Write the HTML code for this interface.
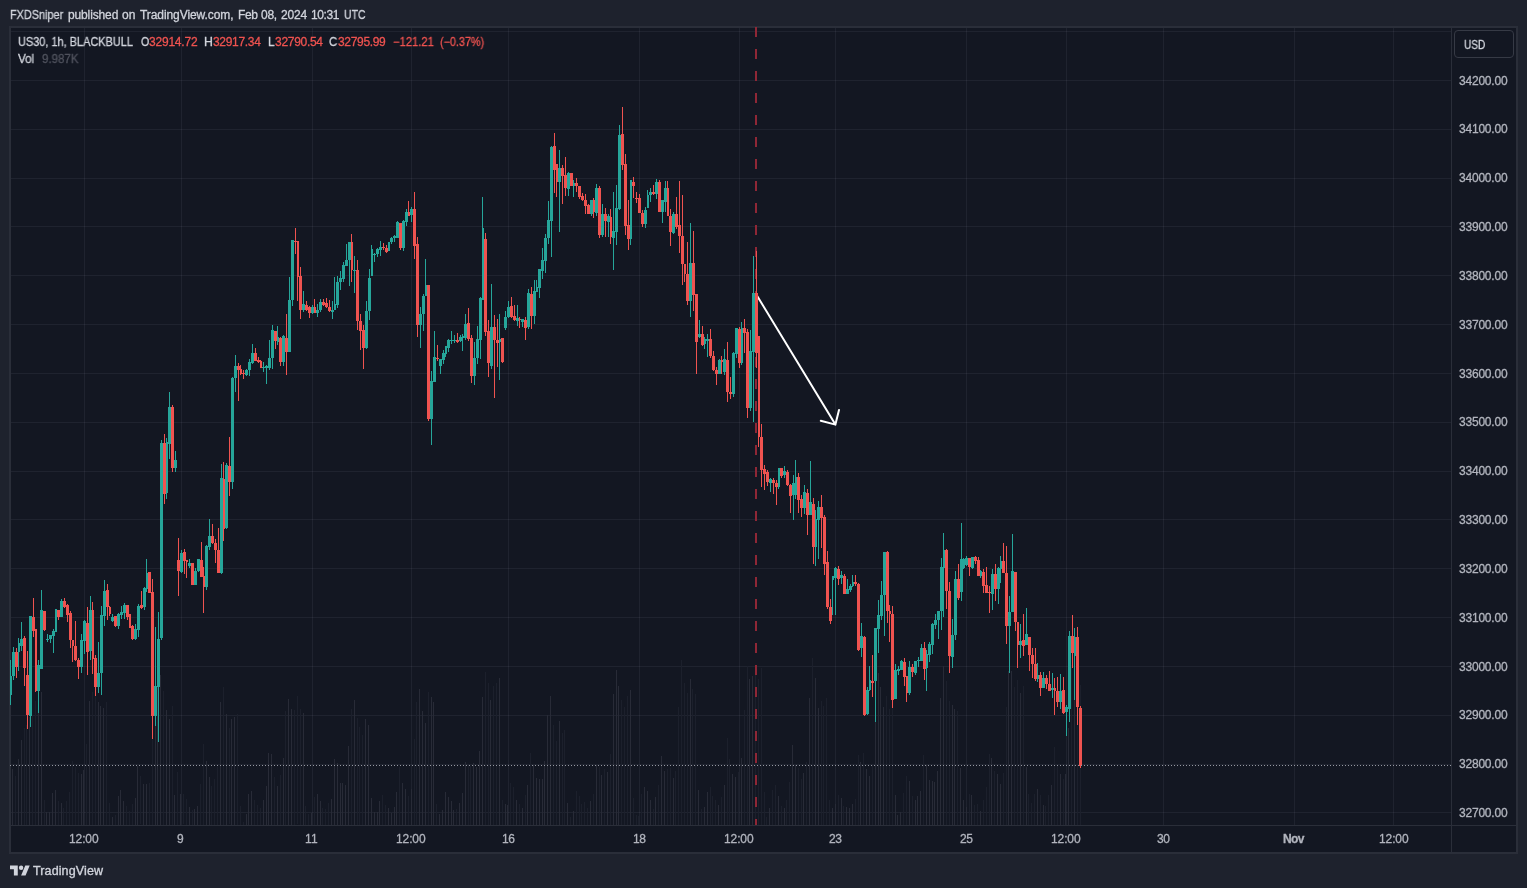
<!DOCTYPE html>
<html><head><meta charset="utf-8">
<style>
html,body{margin:0;padding:0;}
body{width:1527px;height:888px;background:#1e222d;position:relative;overflow:hidden;font-family:"Liberation Sans",sans-serif;font-size:12px;color:#d1d4dc;}
.t{position:absolute;white-space:pre;line-height:14px;will-change:transform;-webkit-text-stroke:0.3px;}
#frame{position:absolute;left:9px;top:26px;width:1505px;height:824px;background:#131722;border:2px solid #2a2e39;}
svg{position:absolute;left:0;top:0;}
.ax{position:absolute;white-space:pre;line-height:14px;color:#b2b5be;}
.r{color:#ef5350;}
</style></head><body>
<div id="frame"></div>
<svg width="1527" height="888" viewBox="0 0 1527 888" shape-rendering="crispEdges">
<rect x="84" y="28" width="1" height="797" fill="rgba(240,243,250,0.06)"/>
<rect x="181" y="28" width="1" height="797" fill="rgba(240,243,250,0.06)"/>
<rect x="312" y="28" width="1" height="797" fill="rgba(240,243,250,0.06)"/>
<rect x="411" y="28" width="1" height="797" fill="rgba(240,243,250,0.06)"/>
<rect x="508" y="28" width="1" height="797" fill="rgba(240,243,250,0.06)"/>
<rect x="639" y="28" width="1" height="797" fill="rgba(240,243,250,0.06)"/>
<rect x="739" y="28" width="1" height="797" fill="rgba(240,243,250,0.06)"/>
<rect x="835" y="28" width="1" height="797" fill="rgba(240,243,250,0.06)"/>
<rect x="966" y="28" width="1" height="797" fill="rgba(240,243,250,0.06)"/>
<rect x="1066" y="28" width="1" height="797" fill="rgba(240,243,250,0.06)"/>
<rect x="1163" y="28" width="1" height="797" fill="rgba(240,243,250,0.06)"/>
<rect x="1294" y="28" width="1" height="797" fill="rgba(240,243,250,0.06)"/>
<rect x="1393" y="28" width="1" height="797" fill="rgba(240,243,250,0.06)"/>
<rect x="11" y="812" width="1440" height="1" fill="rgba(240,243,250,0.06)"/>
<rect x="11" y="764" width="1440" height="1" fill="rgba(240,243,250,0.06)"/>
<rect x="11" y="715" width="1440" height="1" fill="rgba(240,243,250,0.06)"/>
<rect x="11" y="666" width="1440" height="1" fill="rgba(240,243,250,0.06)"/>
<rect x="11" y="617" width="1440" height="1" fill="rgba(240,243,250,0.06)"/>
<rect x="11" y="568" width="1440" height="1" fill="rgba(240,243,250,0.06)"/>
<rect x="11" y="519" width="1440" height="1" fill="rgba(240,243,250,0.06)"/>
<rect x="11" y="471" width="1440" height="1" fill="rgba(240,243,250,0.06)"/>
<rect x="11" y="422" width="1440" height="1" fill="rgba(240,243,250,0.06)"/>
<rect x="11" y="373" width="1440" height="1" fill="rgba(240,243,250,0.06)"/>
<rect x="11" y="324" width="1440" height="1" fill="rgba(240,243,250,0.06)"/>
<rect x="11" y="275" width="1440" height="1" fill="rgba(240,243,250,0.06)"/>
<rect x="11" y="226" width="1440" height="1" fill="rgba(240,243,250,0.06)"/>
<rect x="11" y="178" width="1440" height="1" fill="rgba(240,243,250,0.06)"/>
<rect x="11" y="129" width="1440" height="1" fill="rgba(240,243,250,0.06)"/>
<rect x="11" y="80" width="1440" height="1" fill="rgba(240,243,250,0.06)"/>
<rect x="11" y="31" width="1440" height="1" fill="rgba(240,243,250,0.06)"/>
<rect x="12" y="769" width="1" height="56" fill="#282b37"/>
<rect x="15" y="776" width="1" height="49" fill="#1c202c"/>
<rect x="18" y="759" width="1" height="66" fill="#282b37"/>
<rect x="21" y="740" width="1" height="85" fill="#282b37"/>
<rect x="24" y="728" width="1" height="97" fill="#1c202c"/>
<rect x="26" y="725" width="1" height="100" fill="#1c202c"/>
<rect x="29" y="717" width="1" height="108" fill="#282b37"/>
<rect x="32" y="715" width="1" height="110" fill="#1c202c"/>
<rect x="35" y="701" width="1" height="124" fill="#1c202c"/>
<rect x="38" y="713" width="1" height="112" fill="#282b37"/>
<rect x="41" y="692" width="1" height="133" fill="#282b37"/>
<rect x="44" y="800" width="1" height="25" fill="#1c202c"/>
<rect x="46" y="812" width="1" height="13" fill="#282b37"/>
<rect x="49" y="812" width="1" height="13" fill="#282b37"/>
<rect x="52" y="793" width="1" height="32" fill="#282b37"/>
<rect x="55" y="790" width="1" height="35" fill="#282b37"/>
<rect x="58" y="801" width="1" height="24" fill="#1c202c"/>
<rect x="61" y="803" width="1" height="22" fill="#282b37"/>
<rect x="63" y="808" width="1" height="17" fill="#1c202c"/>
<rect x="66" y="801" width="1" height="24" fill="#1c202c"/>
<rect x="69" y="792" width="1" height="33" fill="#1c202c"/>
<rect x="72" y="761" width="1" height="64" fill="#1c202c"/>
<rect x="75" y="767" width="1" height="58" fill="#1c202c"/>
<rect x="78" y="773" width="1" height="52" fill="#1c202c"/>
<rect x="81" y="774" width="1" height="51" fill="#282b37"/>
<rect x="83" y="770" width="1" height="55" fill="#282b37"/>
<rect x="86" y="744" width="1" height="81" fill="#1c202c"/>
<rect x="89" y="701" width="1" height="124" fill="#282b37"/>
<rect x="92" y="692" width="1" height="133" fill="#1c202c"/>
<rect x="95" y="695" width="1" height="130" fill="#1c202c"/>
<rect x="98" y="702" width="1" height="123" fill="#282b37"/>
<rect x="100" y="706" width="1" height="119" fill="#282b37"/>
<rect x="103" y="708" width="1" height="117" fill="#282b37"/>
<rect x="106" y="702" width="1" height="123" fill="#1c202c"/>
<rect x="109" y="803" width="1" height="22" fill="#1c202c"/>
<rect x="112" y="817" width="1" height="8" fill="#282b37"/>
<rect x="115" y="815" width="1" height="10" fill="#1c202c"/>
<rect x="118" y="796" width="1" height="29" fill="#282b37"/>
<rect x="120" y="790" width="1" height="35" fill="#282b37"/>
<rect x="123" y="801" width="1" height="24" fill="#282b37"/>
<rect x="126" y="806" width="1" height="19" fill="#1c202c"/>
<rect x="129" y="811" width="1" height="14" fill="#1c202c"/>
<rect x="132" y="804" width="1" height="22" fill="#1c202c"/>
<rect x="135" y="798" width="1" height="27" fill="#282b37"/>
<rect x="137" y="766" width="1" height="59" fill="#282b37"/>
<rect x="140" y="776" width="1" height="48" fill="#1c202c"/>
<rect x="143" y="784" width="1" height="41" fill="#282b37"/>
<rect x="146" y="784" width="1" height="41" fill="#282b37"/>
<rect x="149" y="783" width="1" height="42" fill="#1c202c"/>
<rect x="152" y="675" width="1" height="150" fill="#1c202c"/>
<rect x="155" y="660" width="1" height="165" fill="#282b37"/>
<rect x="157" y="665" width="1" height="160" fill="#282b37"/>
<rect x="160" y="675" width="1" height="150" fill="#282b37"/>
<rect x="163" y="691" width="1" height="134" fill="#1c202c"/>
<rect x="166" y="710" width="1" height="115" fill="#282b37"/>
<rect x="169" y="719" width="1" height="106" fill="#282b37"/>
<rect x="172" y="706" width="1" height="119" fill="#1c202c"/>
<rect x="174" y="795" width="1" height="30" fill="#282b37"/>
<rect x="177" y="772" width="1" height="53" fill="#1c202c"/>
<rect x="180" y="794" width="1" height="32" fill="#282b37"/>
<rect x="183" y="794" width="1" height="30" fill="#1c202c"/>
<rect x="186" y="799" width="1" height="26" fill="#1c202c"/>
<rect x="189" y="807" width="1" height="18" fill="#282b37"/>
<rect x="192" y="810" width="1" height="15" fill="#1c202c"/>
<rect x="194" y="809" width="1" height="16" fill="#282b37"/>
<rect x="197" y="806" width="1" height="19" fill="#282b37"/>
<rect x="200" y="784" width="1" height="41" fill="#1c202c"/>
<rect x="203" y="744" width="1" height="81" fill="#1c202c"/>
<rect x="206" y="761" width="1" height="64" fill="#282b37"/>
<rect x="209" y="777" width="1" height="48" fill="#282b37"/>
<rect x="211" y="786" width="1" height="39" fill="#1c202c"/>
<rect x="214" y="779" width="1" height="46" fill="#1c202c"/>
<rect x="217" y="767" width="1" height="58" fill="#1c202c"/>
<rect x="220" y="702" width="1" height="123" fill="#282b37"/>
<rect x="223" y="687" width="1" height="138" fill="#1c202c"/>
<rect x="226" y="714" width="1" height="111" fill="#282b37"/>
<rect x="229" y="728" width="1" height="96" fill="#1c202c"/>
<rect x="231" y="719" width="1" height="106" fill="#282b37"/>
<rect x="234" y="717" width="1" height="108" fill="#282b37"/>
<rect x="237" y="714" width="1" height="111" fill="#1c202c"/>
<rect x="240" y="806" width="1" height="19" fill="#1c202c"/>
<rect x="243" y="822" width="1" height="3" fill="#1c202c"/>
<rect x="246" y="814" width="1" height="11" fill="#282b37"/>
<rect x="248" y="794" width="1" height="32" fill="#282b37"/>
<rect x="251" y="791" width="1" height="34" fill="#282b37"/>
<rect x="254" y="800" width="1" height="25" fill="#1c202c"/>
<rect x="257" y="805" width="1" height="20" fill="#1c202c"/>
<rect x="260" y="808" width="1" height="17" fill="#1c202c"/>
<rect x="263" y="800" width="1" height="25" fill="#282b37"/>
<rect x="266" y="786" width="1" height="39" fill="#282b37"/>
<rect x="268" y="753" width="1" height="72" fill="#282b37"/>
<rect x="271" y="754" width="1" height="71" fill="#282b37"/>
<rect x="274" y="777" width="1" height="48" fill="#1c202c"/>
<rect x="277" y="786" width="1" height="39" fill="#282b37"/>
<rect x="280" y="775" width="1" height="50" fill="#1c202c"/>
<rect x="283" y="758" width="1" height="67" fill="#282b37"/>
<rect x="285" y="711" width="1" height="114" fill="#1c202c"/>
<rect x="288" y="699" width="1" height="126" fill="#282b37"/>
<rect x="291" y="709" width="1" height="116" fill="#282b37"/>
<rect x="294" y="710" width="1" height="115" fill="#1c202c"/>
<rect x="297" y="696" width="1" height="128" fill="#1c202c"/>
<rect x="300" y="709" width="1" height="116" fill="#1c202c"/>
<rect x="303" y="713" width="1" height="112" fill="#282b37"/>
<rect x="305" y="806" width="1" height="19" fill="#1c202c"/>
<rect x="308" y="814" width="1" height="11" fill="#1c202c"/>
<rect x="311" y="813" width="1" height="12" fill="#282b37"/>
<rect x="314" y="797" width="1" height="28" fill="#1c202c"/>
<rect x="317" y="794" width="1" height="31" fill="#282b37"/>
<rect x="320" y="801" width="1" height="24" fill="#282b37"/>
<rect x="322" y="808" width="1" height="17" fill="#1c202c"/>
<rect x="325" y="809" width="1" height="16" fill="#1c202c"/>
<rect x="328" y="803" width="1" height="22" fill="#1c202c"/>
<rect x="331" y="799" width="1" height="26" fill="#282b37"/>
<rect x="334" y="759" width="1" height="66" fill="#282b37"/>
<rect x="337" y="763" width="1" height="62" fill="#282b37"/>
<rect x="340" y="783" width="1" height="42" fill="#282b37"/>
<rect x="342" y="783" width="1" height="42" fill="#282b37"/>
<rect x="345" y="785" width="1" height="40" fill="#282b37"/>
<rect x="348" y="746" width="1" height="79" fill="#282b37"/>
<rect x="351" y="709" width="1" height="116" fill="#1c202c"/>
<rect x="354" y="700" width="1" height="125" fill="#282b37"/>
<rect x="357" y="718" width="1" height="107" fill="#1c202c"/>
<rect x="359" y="727" width="1" height="98" fill="#1c202c"/>
<rect x="362" y="735" width="1" height="90" fill="#1c202c"/>
<rect x="365" y="719" width="1" height="106" fill="#282b37"/>
<rect x="368" y="725" width="1" height="100" fill="#282b37"/>
<rect x="371" y="798" width="1" height="27" fill="#282b37"/>
<rect x="374" y="812" width="1" height="13" fill="#282b37"/>
<rect x="377" y="812" width="1" height="13" fill="#282b37"/>
<rect x="379" y="801" width="1" height="24" fill="#282b37"/>
<rect x="382" y="795" width="1" height="30" fill="#1c202c"/>
<rect x="385" y="805" width="1" height="20" fill="#1c202c"/>
<rect x="388" y="808" width="1" height="17" fill="#282b37"/>
<rect x="391" y="813" width="1" height="12" fill="#282b37"/>
<rect x="394" y="807" width="1" height="18" fill="#282b37"/>
<rect x="396" y="792" width="1" height="33" fill="#282b37"/>
<rect x="399" y="767" width="1" height="58" fill="#1c202c"/>
<rect x="402" y="783" width="1" height="42" fill="#282b37"/>
<rect x="405" y="789" width="1" height="36" fill="#282b37"/>
<rect x="408" y="796" width="1" height="29" fill="#1c202c"/>
<rect x="411" y="789" width="1" height="36" fill="#282b37"/>
<rect x="414" y="739" width="1" height="86" fill="#1c202c"/>
<rect x="416" y="702" width="1" height="123" fill="#1c202c"/>
<rect x="419" y="689" width="1" height="136" fill="#282b37"/>
<rect x="422" y="711" width="1" height="114" fill="#282b37"/>
<rect x="425" y="723" width="1" height="102" fill="#282b37"/>
<rect x="428" y="692" width="1" height="133" fill="#1c202c"/>
<rect x="431" y="697" width="1" height="128" fill="#282b37"/>
<rect x="433" y="702" width="1" height="123" fill="#282b37"/>
<rect x="436" y="804" width="1" height="21" fill="#1c202c"/>
<rect x="439" y="814" width="1" height="11" fill="#282b37"/>
<rect x="442" y="810" width="1" height="15" fill="#282b37"/>
<rect x="445" y="792" width="1" height="33" fill="#282b37"/>
<rect x="448" y="797" width="1" height="28" fill="#282b37"/>
<rect x="451" y="801" width="1" height="24" fill="#282b37"/>
<rect x="453" y="810" width="1" height="15" fill="#282b37"/>
<rect x="456" y="809" width="1" height="16" fill="#1c202c"/>
<rect x="459" y="803" width="1" height="22" fill="#282b37"/>
<rect x="462" y="793" width="1" height="32" fill="#282b37"/>
<rect x="465" y="762" width="1" height="63" fill="#282b37"/>
<rect x="468" y="765" width="1" height="60" fill="#1c202c"/>
<rect x="470" y="766" width="1" height="59" fill="#1c202c"/>
<rect x="473" y="763" width="1" height="62" fill="#282b37"/>
<rect x="476" y="767" width="1" height="58" fill="#282b37"/>
<rect x="479" y="751" width="1" height="74" fill="#282b37"/>
<rect x="482" y="697" width="1" height="128" fill="#282b37"/>
<rect x="485" y="672" width="1" height="153" fill="#1c202c"/>
<rect x="488" y="683" width="1" height="142" fill="#1c202c"/>
<rect x="490" y="700" width="1" height="125" fill="#282b37"/>
<rect x="493" y="686" width="1" height="139" fill="#1c202c"/>
<rect x="496" y="683" width="1" height="142" fill="#1c202c"/>
<rect x="499" y="678" width="1" height="147" fill="#282b37"/>
<rect x="502" y="800" width="1" height="25" fill="#1c202c"/>
<rect x="505" y="804" width="1" height="21" fill="#282b37"/>
<rect x="507" y="805" width="1" height="20" fill="#282b37"/>
<rect x="510" y="783" width="1" height="42" fill="#1c202c"/>
<rect x="513" y="787" width="1" height="38" fill="#1c202c"/>
<rect x="516" y="800" width="1" height="25" fill="#282b37"/>
<rect x="519" y="804" width="1" height="21" fill="#1c202c"/>
<rect x="522" y="808" width="1" height="17" fill="#282b37"/>
<rect x="525" y="795" width="1" height="30" fill="#1c202c"/>
<rect x="527" y="785" width="1" height="40" fill="#282b37"/>
<rect x="530" y="753" width="1" height="72" fill="#1c202c"/>
<rect x="533" y="765" width="1" height="60" fill="#282b37"/>
<rect x="536" y="778" width="1" height="47" fill="#282b37"/>
<rect x="539" y="779" width="1" height="46" fill="#282b37"/>
<rect x="542" y="779" width="1" height="46" fill="#282b37"/>
<rect x="544" y="761" width="1" height="64" fill="#282b37"/>
<rect x="547" y="715" width="1" height="110" fill="#282b37"/>
<rect x="550" y="696" width="1" height="129" fill="#282b37"/>
<rect x="553" y="725" width="1" height="100" fill="#1c202c"/>
<rect x="556" y="741" width="1" height="84" fill="#1c202c"/>
<rect x="559" y="721" width="1" height="104" fill="#282b37"/>
<rect x="562" y="733" width="1" height="92" fill="#1c202c"/>
<rect x="564" y="730" width="1" height="95" fill="#1c202c"/>
<rect x="567" y="803" width="1" height="22" fill="#282b37"/>
<rect x="570" y="817" width="1" height="8" fill="#1c202c"/>
<rect x="573" y="811" width="1" height="14" fill="#282b37"/>
<rect x="576" y="791" width="1" height="34" fill="#1c202c"/>
<rect x="579" y="796" width="1" height="29" fill="#1c202c"/>
<rect x="581" y="804" width="1" height="21" fill="#1c202c"/>
<rect x="584" y="802" width="1" height="23" fill="#1c202c"/>
<rect x="587" y="808" width="1" height="17" fill="#1c202c"/>
<rect x="590" y="801" width="1" height="24" fill="#282b37"/>
<rect x="593" y="794" width="1" height="31" fill="#1c202c"/>
<rect x="596" y="765" width="1" height="60" fill="#282b37"/>
<rect x="599" y="767" width="1" height="58" fill="#1c202c"/>
<rect x="601" y="775" width="1" height="50" fill="#282b37"/>
<rect x="604" y="769" width="1" height="56" fill="#1c202c"/>
<rect x="607" y="772" width="1" height="53" fill="#282b37"/>
<rect x="610" y="754" width="1" height="71" fill="#1c202c"/>
<rect x="613" y="694" width="1" height="131" fill="#282b37"/>
<rect x="616" y="670" width="1" height="155" fill="#282b37"/>
<rect x="618" y="686" width="1" height="139" fill="#282b37"/>
<rect x="621" y="700" width="1" height="125" fill="#1c202c"/>
<rect x="624" y="707" width="1" height="118" fill="#1c202c"/>
<rect x="627" y="696" width="1" height="129" fill="#1c202c"/>
<rect x="630" y="690" width="1" height="135" fill="#282b37"/>
<rect x="633" y="798" width="1" height="27" fill="#1c202c"/>
<rect x="636" y="815" width="1" height="10" fill="#1c202c"/>
<rect x="638" y="816" width="1" height="9" fill="#1c202c"/>
<rect x="641" y="794" width="1" height="31" fill="#1c202c"/>
<rect x="644" y="787" width="1" height="38" fill="#282b37"/>
<rect x="647" y="791" width="1" height="34" fill="#282b37"/>
<rect x="650" y="800" width="1" height="25" fill="#282b37"/>
<rect x="653" y="809" width="1" height="16" fill="#1c202c"/>
<rect x="655" y="797" width="1" height="28" fill="#282b37"/>
<rect x="658" y="785" width="1" height="40" fill="#1c202c"/>
<rect x="661" y="756" width="1" height="69" fill="#282b37"/>
<rect x="664" y="771" width="1" height="54" fill="#282b37"/>
<rect x="667" y="769" width="1" height="56" fill="#1c202c"/>
<rect x="670" y="768" width="1" height="57" fill="#1c202c"/>
<rect x="673" y="778" width="1" height="47" fill="#282b37"/>
<rect x="675" y="771" width="1" height="54" fill="#1c202c"/>
<rect x="678" y="707" width="1" height="118" fill="#1c202c"/>
<rect x="681" y="660" width="1" height="165" fill="#1c202c"/>
<rect x="684" y="683" width="1" height="142" fill="#1c202c"/>
<rect x="687" y="693" width="1" height="132" fill="#1c202c"/>
<rect x="690" y="679" width="1" height="146" fill="#282b37"/>
<rect x="692" y="689" width="1" height="136" fill="#1c202c"/>
<rect x="695" y="694" width="1" height="131" fill="#1c202c"/>
<rect x="698" y="790" width="1" height="35" fill="#282b37"/>
<rect x="701" y="809" width="1" height="16" fill="#1c202c"/>
<rect x="704" y="807" width="1" height="18" fill="#282b37"/>
<rect x="707" y="792" width="1" height="33" fill="#282b37"/>
<rect x="710" y="787" width="1" height="38" fill="#1c202c"/>
<rect x="712" y="796" width="1" height="29" fill="#1c202c"/>
<rect x="715" y="800" width="1" height="25" fill="#1c202c"/>
<rect x="718" y="805" width="1" height="20" fill="#282b37"/>
<rect x="721" y="797" width="1" height="28" fill="#1c202c"/>
<rect x="724" y="785" width="1" height="40" fill="#282b37"/>
<rect x="727" y="738" width="1" height="87" fill="#1c202c"/>
<rect x="729" y="759" width="1" height="66" fill="#1c202c"/>
<rect x="732" y="774" width="1" height="51" fill="#282b37"/>
<rect x="735" y="777" width="1" height="48" fill="#282b37"/>
<rect x="738" y="772" width="1" height="53" fill="#1c202c"/>
<rect x="741" y="758" width="1" height="67" fill="#282b37"/>
<rect x="744" y="710" width="1" height="115" fill="#1c202c"/>
<rect x="747" y="666" width="1" height="159" fill="#1c202c"/>
<rect x="749" y="679" width="1" height="146" fill="#282b37"/>
<rect x="752" y="676" width="1" height="149" fill="#282b37"/>
<rect x="755" y="671" width="1" height="154" fill="#1c202c"/>
<rect x="758" y="679" width="1" height="146" fill="#1c202c"/>
<rect x="761" y="668" width="1" height="157" fill="#1c202c"/>
<rect x="764" y="792" width="1" height="33" fill="#1c202c"/>
<rect x="766" y="817" width="1" height="8" fill="#1c202c"/>
<rect x="769" y="808" width="1" height="17" fill="#282b37"/>
<rect x="772" y="790" width="1" height="35" fill="#1c202c"/>
<rect x="775" y="785" width="1" height="40" fill="#1c202c"/>
<rect x="778" y="796" width="1" height="29" fill="#282b37"/>
<rect x="781" y="806" width="1" height="19" fill="#1c202c"/>
<rect x="784" y="808" width="1" height="17" fill="#282b37"/>
<rect x="786" y="800" width="1" height="25" fill="#1c202c"/>
<rect x="789" y="782" width="1" height="43" fill="#1c202c"/>
<rect x="792" y="745" width="1" height="80" fill="#282b37"/>
<rect x="795" y="765" width="1" height="60" fill="#282b37"/>
<rect x="798" y="768" width="1" height="57" fill="#1c202c"/>
<rect x="801" y="779" width="1" height="46" fill="#1c202c"/>
<rect x="803" y="773" width="1" height="52" fill="#282b37"/>
<rect x="806" y="762" width="1" height="63" fill="#1c202c"/>
<rect x="809" y="698" width="1" height="127" fill="#282b37"/>
<rect x="812" y="658" width="1" height="167" fill="#1c202c"/>
<rect x="815" y="678" width="1" height="147" fill="#282b37"/>
<rect x="818" y="708" width="1" height="117" fill="#282b37"/>
<rect x="821" y="701" width="1" height="124" fill="#1c202c"/>
<rect x="823" y="706" width="1" height="119" fill="#1c202c"/>
<rect x="826" y="698" width="1" height="127" fill="#1c202c"/>
<rect x="829" y="800" width="1" height="25" fill="#1c202c"/>
<rect x="832" y="808" width="1" height="17" fill="#282b37"/>
<rect x="835" y="804" width="1" height="21" fill="#282b37"/>
<rect x="838" y="795" width="1" height="30" fill="#1c202c"/>
<rect x="841" y="798" width="1" height="27" fill="#282b37"/>
<rect x="843" y="806" width="1" height="19" fill="#1c202c"/>
<rect x="846" y="807" width="1" height="18" fill="#282b37"/>
<rect x="849" y="808" width="1" height="17" fill="#282b37"/>
<rect x="852" y="804" width="1" height="21" fill="#282b37"/>
<rect x="855" y="799" width="1" height="26" fill="#1c202c"/>
<rect x="858" y="755" width="1" height="70" fill="#1c202c"/>
<rect x="860" y="762" width="1" height="63" fill="#282b37"/>
<rect x="863" y="753" width="1" height="72" fill="#1c202c"/>
<rect x="866" y="769" width="1" height="56" fill="#282b37"/>
<rect x="869" y="776" width="1" height="49" fill="#282b37"/>
<rect x="872" y="765" width="1" height="60" fill="#1c202c"/>
<rect x="875" y="709" width="1" height="116" fill="#282b37"/>
<rect x="878" y="673" width="1" height="152" fill="#282b37"/>
<rect x="880" y="687" width="1" height="138" fill="#282b37"/>
<rect x="883" y="707" width="1" height="118" fill="#282b37"/>
<rect x="886" y="696" width="1" height="129" fill="#1c202c"/>
<rect x="889" y="709" width="1" height="116" fill="#1c202c"/>
<rect x="892" y="702" width="1" height="123" fill="#1c202c"/>
<rect x="895" y="795" width="1" height="30" fill="#282b37"/>
<rect x="897" y="815" width="1" height="10" fill="#282b37"/>
<rect x="900" y="812" width="1" height="13" fill="#282b37"/>
<rect x="903" y="793" width="1" height="32" fill="#1c202c"/>
<rect x="906" y="776" width="1" height="49" fill="#1c202c"/>
<rect x="909" y="781" width="1" height="44" fill="#282b37"/>
<rect x="912" y="796" width="1" height="29" fill="#1c202c"/>
<rect x="915" y="800" width="1" height="25" fill="#282b37"/>
<rect x="917" y="796" width="1" height="29" fill="#282b37"/>
<rect x="920" y="791" width="1" height="34" fill="#282b37"/>
<rect x="923" y="755" width="1" height="70" fill="#1c202c"/>
<rect x="926" y="765" width="1" height="60" fill="#282b37"/>
<rect x="929" y="780" width="1" height="45" fill="#282b37"/>
<rect x="932" y="781" width="1" height="44" fill="#282b37"/>
<rect x="934" y="782" width="1" height="43" fill="#282b37"/>
<rect x="937" y="771" width="1" height="54" fill="#282b37"/>
<rect x="940" y="698" width="1" height="127" fill="#282b37"/>
<rect x="943" y="666" width="1" height="159" fill="#282b37"/>
<rect x="946" y="681" width="1" height="144" fill="#1c202c"/>
<rect x="949" y="701" width="1" height="124" fill="#1c202c"/>
<rect x="952" y="705" width="1" height="120" fill="#282b37"/>
<rect x="954" y="709" width="1" height="116" fill="#282b37"/>
<rect x="957" y="711" width="1" height="114" fill="#1c202c"/>
<rect x="960" y="768" width="1" height="57" fill="#282b37"/>
<rect x="963" y="800" width="1" height="25" fill="#282b37"/>
<rect x="966" y="807" width="1" height="18" fill="#282b37"/>
<rect x="969" y="794" width="1" height="31" fill="#1c202c"/>
<rect x="971" y="795" width="1" height="30" fill="#282b37"/>
<rect x="974" y="805" width="1" height="20" fill="#1c202c"/>
<rect x="977" y="804" width="1" height="21" fill="#1c202c"/>
<rect x="980" y="811" width="1" height="14" fill="#282b37"/>
<rect x="983" y="800" width="1" height="25" fill="#1c202c"/>
<rect x="986" y="787" width="1" height="38" fill="#1c202c"/>
<rect x="989" y="754" width="1" height="71" fill="#1c202c"/>
<rect x="991" y="758" width="1" height="67" fill="#282b37"/>
<rect x="994" y="771" width="1" height="54" fill="#1c202c"/>
<rect x="997" y="774" width="1" height="51" fill="#282b37"/>
<rect x="1000" y="784" width="1" height="41" fill="#282b37"/>
<rect x="1003" y="773" width="1" height="52" fill="#1c202c"/>
<rect x="1006" y="707" width="1" height="118" fill="#1c202c"/>
<rect x="1008" y="671" width="1" height="154" fill="#282b37"/>
<rect x="1011" y="671" width="1" height="154" fill="#282b37"/>
<rect x="1014" y="687" width="1" height="138" fill="#1c202c"/>
<rect x="1017" y="680" width="1" height="145" fill="#1c202c"/>
<rect x="1020" y="693" width="1" height="132" fill="#282b37"/>
<rect x="1023" y="686" width="1" height="139" fill="#1c202c"/>
<rect x="1026" y="767" width="1" height="58" fill="#282b37"/>
<rect x="1028" y="794" width="1" height="31" fill="#1c202c"/>
<rect x="1031" y="803" width="1" height="22" fill="#1c202c"/>
<rect x="1034" y="794" width="1" height="31" fill="#1c202c"/>
<rect x="1037" y="789" width="1" height="36" fill="#282b37"/>
<rect x="1040" y="795" width="1" height="30" fill="#1c202c"/>
<rect x="1043" y="805" width="1" height="20" fill="#282b37"/>
<rect x="1045" y="806" width="1" height="19" fill="#1c202c"/>
<rect x="1048" y="795" width="1" height="30" fill="#1c202c"/>
<rect x="1051" y="785" width="1" height="40" fill="#282b37"/>
<rect x="1054" y="747" width="1" height="78" fill="#1c202c"/>
<rect x="1057" y="765" width="1" height="60" fill="#1c202c"/>
<rect x="1060" y="774" width="1" height="51" fill="#282b37"/>
<rect x="1063" y="779" width="1" height="46" fill="#1c202c"/>
<rect x="1065" y="774" width="1" height="51" fill="#282b37"/>
<rect x="1068" y="728" width="1" height="97" fill="#282b37"/>
<rect x="1071" y="665" width="1" height="160" fill="#1c202c"/>
<rect x="1074" y="661" width="1" height="164" fill="#282b37"/>
<rect x="1077" y="681" width="1" height="144" fill="#1c202c"/>
<rect x="1080" y="685" width="1" height="140" fill="#1c202c"/>
<rect x="755" y="27" width="2" height="10" fill="#8f2736"/>
<rect x="755" y="49" width="2" height="10" fill="#8f2736"/>
<rect x="755" y="71" width="2" height="10" fill="#8f2736"/>
<rect x="755" y="93" width="2" height="10" fill="#8f2736"/>
<rect x="755" y="115" width="2" height="10" fill="#8f2736"/>
<rect x="755" y="137" width="2" height="10" fill="#8f2736"/>
<rect x="755" y="159" width="2" height="10" fill="#8f2736"/>
<rect x="755" y="181" width="2" height="10" fill="#8f2736"/>
<rect x="755" y="203" width="2" height="10" fill="#8f2736"/>
<rect x="755" y="225" width="2" height="10" fill="#8f2736"/>
<rect x="755" y="247" width="2" height="10" fill="#8f2736"/>
<rect x="755" y="269" width="2" height="10" fill="#8f2736"/>
<rect x="755" y="291" width="2" height="10" fill="#8f2736"/>
<rect x="755" y="313" width="2" height="10" fill="#8f2736"/>
<rect x="755" y="335" width="2" height="10" fill="#8f2736"/>
<rect x="755" y="357" width="2" height="10" fill="#8f2736"/>
<rect x="755" y="379" width="2" height="10" fill="#8f2736"/>
<rect x="755" y="401" width="2" height="10" fill="#8f2736"/>
<rect x="755" y="423" width="2" height="10" fill="#8f2736"/>
<rect x="755" y="445" width="2" height="10" fill="#8f2736"/>
<rect x="755" y="467" width="2" height="10" fill="#8f2736"/>
<rect x="755" y="489" width="2" height="10" fill="#8f2736"/>
<rect x="755" y="511" width="2" height="10" fill="#8f2736"/>
<rect x="755" y="533" width="2" height="10" fill="#8f2736"/>
<rect x="755" y="555" width="2" height="10" fill="#8f2736"/>
<rect x="755" y="577" width="2" height="10" fill="#8f2736"/>
<rect x="755" y="599" width="2" height="10" fill="#8f2736"/>
<rect x="755" y="621" width="2" height="10" fill="#8f2736"/>
<rect x="755" y="643" width="2" height="10" fill="#8f2736"/>
<rect x="755" y="665" width="2" height="10" fill="#8f2736"/>
<rect x="755" y="687" width="2" height="10" fill="#8f2736"/>
<rect x="755" y="709" width="2" height="10" fill="#8f2736"/>
<rect x="755" y="731" width="2" height="10" fill="#8f2736"/>
<rect x="755" y="753" width="2" height="10" fill="#8f2736"/>
<rect x="755" y="775" width="2" height="10" fill="#8f2736"/>
<rect x="755" y="797" width="2" height="10" fill="#8f2736"/>
<rect x="755" y="819" width="2" height="6" fill="#8f2736"/>
</svg>
<svg width="1527" height="888" viewBox="0 0 1527 888"><path d="M757.5 296.4L835.4 424.6M820.8 420.8L835.4 424.6L839.0 410.0" stroke="#ffffff" stroke-width="2" fill="none" stroke-linecap="round" stroke-linejoin="round"/></svg>
<svg width="1527" height="888" viewBox="0 0 1527 888" shape-rendering="crispEdges">
<rect x="10" y="660" width="1" height="45" fill="#26a69a"/>
<rect x="13" y="647" width="1" height="33" fill="#26a69a"/>
<rect x="16" y="648" width="1" height="30" fill="#ef5350"/>
<rect x="18" y="638" width="1" height="33" fill="#26a69a"/>
<rect x="21" y="622" width="1" height="29" fill="#26a69a"/>
<rect x="24" y="636" width="1" height="50" fill="#ef5350"/>
<rect x="27" y="651" width="1" height="78" fill="#ef5350"/>
<rect x="30" y="616" width="1" height="111" fill="#26a69a"/>
<rect x="33" y="598" width="1" height="39" fill="#ef5350"/>
<rect x="35" y="629" width="1" height="63" fill="#ef5350"/>
<rect x="38" y="660" width="1" height="53" fill="#26a69a"/>
<rect x="41" y="590" width="1" height="79" fill="#26a69a"/>
<rect x="44" y="611" width="1" height="20" fill="#ef5350"/>
<rect x="47" y="634" width="1" height="8" fill="#26a69a"/>
<rect x="50" y="635" width="1" height="8" fill="#26a69a"/>
<rect x="53" y="629" width="1" height="24" fill="#26a69a"/>
<rect x="55" y="609" width="1" height="23" fill="#26a69a"/>
<rect x="58" y="610" width="1" height="10" fill="#ef5350"/>
<rect x="61" y="599" width="1" height="18" fill="#26a69a"/>
<rect x="64" y="598" width="1" height="10" fill="#ef5350"/>
<rect x="67" y="604" width="1" height="18" fill="#ef5350"/>
<rect x="70" y="611" width="1" height="37" fill="#ef5350"/>
<rect x="72" y="640" width="1" height="22" fill="#ef5350"/>
<rect x="75" y="621" width="1" height="40" fill="#ef5350"/>
<rect x="78" y="658" width="1" height="21" fill="#ef5350"/>
<rect x="81" y="634" width="1" height="39" fill="#26a69a"/>
<rect x="84" y="620" width="1" height="34" fill="#26a69a"/>
<rect x="87" y="607" width="1" height="68" fill="#ef5350"/>
<rect x="90" y="596" width="1" height="64" fill="#26a69a"/>
<rect x="92" y="602" width="1" height="72" fill="#ef5350"/>
<rect x="95" y="655" width="1" height="41" fill="#ef5350"/>
<rect x="98" y="642" width="1" height="51" fill="#26a69a"/>
<rect x="101" y="606" width="1" height="89" fill="#26a69a"/>
<rect x="104" y="580" width="1" height="46" fill="#26a69a"/>
<rect x="107" y="584" width="1" height="36" fill="#ef5350"/>
<rect x="109" y="606" width="1" height="10" fill="#ef5350"/>
<rect x="112" y="614" width="1" height="8" fill="#26a69a"/>
<rect x="115" y="616" width="1" height="11" fill="#ef5350"/>
<rect x="118" y="613" width="1" height="16" fill="#26a69a"/>
<rect x="121" y="606" width="1" height="13" fill="#26a69a"/>
<rect x="124" y="603" width="1" height="16" fill="#26a69a"/>
<rect x="127" y="605" width="1" height="15" fill="#ef5350"/>
<rect x="129" y="614" width="1" height="14" fill="#ef5350"/>
<rect x="132" y="625" width="1" height="15" fill="#ef5350"/>
<rect x="135" y="624" width="1" height="16" fill="#26a69a"/>
<rect x="138" y="604" width="1" height="33" fill="#26a69a"/>
<rect x="141" y="591" width="1" height="18" fill="#ef5350"/>
<rect x="144" y="587" width="1" height="23" fill="#26a69a"/>
<rect x="146" y="559" width="1" height="33" fill="#26a69a"/>
<rect x="149" y="572" width="1" height="21" fill="#ef5350"/>
<rect x="152" y="579" width="1" height="160" fill="#ef5350"/>
<rect x="155" y="627" width="1" height="99" fill="#26a69a"/>
<rect x="158" y="612" width="1" height="130" fill="#26a69a"/>
<rect x="161" y="440" width="1" height="200" fill="#26a69a"/>
<rect x="164" y="434" width="1" height="70" fill="#ef5350"/>
<rect x="166" y="438" width="1" height="61" fill="#26a69a"/>
<rect x="169" y="392" width="1" height="67" fill="#26a69a"/>
<rect x="172" y="405" width="1" height="67" fill="#ef5350"/>
<rect x="175" y="451" width="1" height="21" fill="#26a69a"/>
<rect x="178" y="538" width="1" height="58" fill="#ef5350"/>
<rect x="181" y="550" width="1" height="23" fill="#26a69a"/>
<rect x="184" y="549" width="1" height="25" fill="#ef5350"/>
<rect x="186" y="560" width="1" height="18" fill="#ef5350"/>
<rect x="189" y="559" width="1" height="9" fill="#26a69a"/>
<rect x="192" y="563" width="1" height="22" fill="#ef5350"/>
<rect x="195" y="568" width="1" height="17" fill="#26a69a"/>
<rect x="198" y="559" width="1" height="13" fill="#26a69a"/>
<rect x="201" y="542" width="1" height="35" fill="#ef5350"/>
<rect x="203" y="567" width="1" height="46" fill="#ef5350"/>
<rect x="206" y="545" width="1" height="45" fill="#26a69a"/>
<rect x="209" y="519" width="1" height="31" fill="#26a69a"/>
<rect x="212" y="524" width="1" height="20" fill="#ef5350"/>
<rect x="215" y="539" width="1" height="24" fill="#ef5350"/>
<rect x="218" y="528" width="1" height="45" fill="#ef5350"/>
<rect x="221" y="464" width="1" height="110" fill="#26a69a"/>
<rect x="223" y="462" width="1" height="79" fill="#ef5350"/>
<rect x="226" y="463" width="1" height="66" fill="#26a69a"/>
<rect x="229" y="437" width="1" height="59" fill="#ef5350"/>
<rect x="232" y="377" width="1" height="112" fill="#26a69a"/>
<rect x="235" y="355" width="1" height="37" fill="#26a69a"/>
<rect x="238" y="363" width="1" height="38" fill="#ef5350"/>
<rect x="240" y="365" width="1" height="10" fill="#ef5350"/>
<rect x="243" y="370" width="1" height="9" fill="#ef5350"/>
<rect x="246" y="369" width="1" height="7" fill="#26a69a"/>
<rect x="249" y="359" width="1" height="17" fill="#26a69a"/>
<rect x="252" y="344" width="1" height="20" fill="#26a69a"/>
<rect x="255" y="348" width="1" height="13" fill="#ef5350"/>
<rect x="258" y="357" width="1" height="6" fill="#ef5350"/>
<rect x="260" y="360" width="1" height="8" fill="#ef5350"/>
<rect x="263" y="362" width="1" height="10" fill="#26a69a"/>
<rect x="266" y="365" width="1" height="19" fill="#26a69a"/>
<rect x="269" y="340" width="1" height="30" fill="#26a69a"/>
<rect x="272" y="325" width="1" height="44" fill="#26a69a"/>
<rect x="275" y="331" width="1" height="18" fill="#ef5350"/>
<rect x="277" y="326" width="1" height="19" fill="#26a69a"/>
<rect x="280" y="337" width="1" height="29" fill="#ef5350"/>
<rect x="283" y="335" width="1" height="31" fill="#26a69a"/>
<rect x="286" y="314" width="1" height="61" fill="#ef5350"/>
<rect x="289" y="277" width="1" height="75" fill="#26a69a"/>
<rect x="292" y="240" width="1" height="66" fill="#26a69a"/>
<rect x="295" y="228" width="1" height="26" fill="#ef5350"/>
<rect x="297" y="241" width="1" height="60" fill="#ef5350"/>
<rect x="300" y="267" width="1" height="52" fill="#ef5350"/>
<rect x="303" y="291" width="1" height="21" fill="#26a69a"/>
<rect x="306" y="301" width="1" height="10" fill="#ef5350"/>
<rect x="309" y="306" width="1" height="12" fill="#ef5350"/>
<rect x="312" y="305" width="1" height="9" fill="#26a69a"/>
<rect x="314" y="299" width="1" height="14" fill="#ef5350"/>
<rect x="317" y="304" width="1" height="13" fill="#26a69a"/>
<rect x="320" y="299" width="1" height="13" fill="#26a69a"/>
<rect x="323" y="299" width="1" height="7" fill="#ef5350"/>
<rect x="326" y="298" width="1" height="10" fill="#ef5350"/>
<rect x="329" y="300" width="1" height="12" fill="#ef5350"/>
<rect x="332" y="301" width="1" height="18" fill="#26a69a"/>
<rect x="334" y="277" width="1" height="33" fill="#26a69a"/>
<rect x="337" y="276" width="1" height="32" fill="#26a69a"/>
<rect x="340" y="271" width="1" height="19" fill="#26a69a"/>
<rect x="343" y="262" width="1" height="20" fill="#26a69a"/>
<rect x="346" y="244" width="1" height="22" fill="#26a69a"/>
<rect x="349" y="242" width="1" height="44" fill="#26a69a"/>
<rect x="351" y="234" width="1" height="48" fill="#ef5350"/>
<rect x="354" y="256" width="1" height="37" fill="#26a69a"/>
<rect x="357" y="260" width="1" height="70" fill="#ef5350"/>
<rect x="360" y="314" width="1" height="36" fill="#ef5350"/>
<rect x="363" y="325" width="1" height="44" fill="#ef5350"/>
<rect x="366" y="301" width="1" height="48" fill="#26a69a"/>
<rect x="369" y="269" width="1" height="51" fill="#26a69a"/>
<rect x="371" y="245" width="1" height="31" fill="#26a69a"/>
<rect x="374" y="253" width="1" height="9" fill="#26a69a"/>
<rect x="377" y="248" width="1" height="9" fill="#26a69a"/>
<rect x="380" y="241" width="1" height="15" fill="#26a69a"/>
<rect x="383" y="243" width="1" height="7" fill="#ef5350"/>
<rect x="386" y="245" width="1" height="8" fill="#ef5350"/>
<rect x="388" y="242" width="1" height="9" fill="#26a69a"/>
<rect x="391" y="237" width="1" height="7" fill="#26a69a"/>
<rect x="394" y="235" width="1" height="7" fill="#26a69a"/>
<rect x="397" y="221" width="1" height="17" fill="#26a69a"/>
<rect x="400" y="223" width="1" height="27" fill="#ef5350"/>
<rect x="403" y="220" width="1" height="31" fill="#26a69a"/>
<rect x="406" y="209" width="1" height="17" fill="#26a69a"/>
<rect x="408" y="201" width="1" height="15" fill="#ef5350"/>
<rect x="411" y="207" width="1" height="15" fill="#26a69a"/>
<rect x="414" y="192" width="1" height="67" fill="#ef5350"/>
<rect x="417" y="237" width="1" height="100" fill="#ef5350"/>
<rect x="420" y="307" width="1" height="41" fill="#26a69a"/>
<rect x="423" y="294" width="1" height="37" fill="#26a69a"/>
<rect x="425" y="259" width="1" height="37" fill="#26a69a"/>
<rect x="428" y="285" width="1" height="136" fill="#ef5350"/>
<rect x="431" y="371" width="1" height="74" fill="#26a69a"/>
<rect x="434" y="331" width="1" height="51" fill="#26a69a"/>
<rect x="437" y="345" width="1" height="16" fill="#ef5350"/>
<rect x="440" y="359" width="1" height="15" fill="#26a69a"/>
<rect x="443" y="350" width="1" height="14" fill="#26a69a"/>
<rect x="445" y="346" width="1" height="11" fill="#26a69a"/>
<rect x="448" y="339" width="1" height="13" fill="#26a69a"/>
<rect x="451" y="331" width="1" height="13" fill="#26a69a"/>
<rect x="454" y="335" width="1" height="8" fill="#26a69a"/>
<rect x="457" y="333" width="1" height="10" fill="#ef5350"/>
<rect x="460" y="335" width="1" height="7" fill="#26a69a"/>
<rect x="462" y="334" width="1" height="17" fill="#26a69a"/>
<rect x="465" y="314" width="1" height="26" fill="#26a69a"/>
<rect x="468" y="308" width="1" height="33" fill="#ef5350"/>
<rect x="471" y="335" width="1" height="48" fill="#ef5350"/>
<rect x="474" y="342" width="1" height="43" fill="#26a69a"/>
<rect x="477" y="326" width="1" height="38" fill="#26a69a"/>
<rect x="480" y="297" width="1" height="62" fill="#26a69a"/>
<rect x="482" y="197" width="1" height="103" fill="#26a69a"/>
<rect x="485" y="233" width="1" height="103" fill="#ef5350"/>
<rect x="488" y="320" width="1" height="57" fill="#ef5350"/>
<rect x="491" y="284" width="1" height="85" fill="#26a69a"/>
<rect x="494" y="315" width="1" height="83" fill="#ef5350"/>
<rect x="497" y="319" width="1" height="48" fill="#ef5350"/>
<rect x="499" y="314" width="1" height="66" fill="#26a69a"/>
<rect x="502" y="338" width="1" height="25" fill="#ef5350"/>
<rect x="505" y="311" width="1" height="19" fill="#26a69a"/>
<rect x="508" y="301" width="1" height="17" fill="#26a69a"/>
<rect x="511" y="297" width="1" height="21" fill="#ef5350"/>
<rect x="514" y="305" width="1" height="16" fill="#ef5350"/>
<rect x="517" y="305" width="1" height="21" fill="#26a69a"/>
<rect x="519" y="317" width="1" height="11" fill="#ef5350"/>
<rect x="522" y="319" width="1" height="8" fill="#26a69a"/>
<rect x="525" y="317" width="1" height="23" fill="#ef5350"/>
<rect x="528" y="289" width="1" height="40" fill="#26a69a"/>
<rect x="531" y="287" width="1" height="42" fill="#ef5350"/>
<rect x="534" y="280" width="1" height="44" fill="#26a69a"/>
<rect x="536" y="280" width="1" height="12" fill="#26a69a"/>
<rect x="539" y="269" width="1" height="29" fill="#26a69a"/>
<rect x="542" y="248" width="1" height="31" fill="#26a69a"/>
<rect x="545" y="234" width="1" height="39" fill="#26a69a"/>
<rect x="548" y="201" width="1" height="43" fill="#26a69a"/>
<rect x="551" y="146" width="1" height="111" fill="#26a69a"/>
<rect x="554" y="133" width="1" height="60" fill="#ef5350"/>
<rect x="556" y="164" width="1" height="33" fill="#ef5350"/>
<rect x="559" y="150" width="1" height="82" fill="#26a69a"/>
<rect x="562" y="165" width="1" height="39" fill="#ef5350"/>
<rect x="565" y="157" width="1" height="39" fill="#ef5350"/>
<rect x="568" y="172" width="1" height="24" fill="#26a69a"/>
<rect x="571" y="173" width="1" height="13" fill="#ef5350"/>
<rect x="573" y="180" width="1" height="17" fill="#26a69a"/>
<rect x="576" y="178" width="1" height="14" fill="#ef5350"/>
<rect x="579" y="186" width="1" height="13" fill="#ef5350"/>
<rect x="582" y="193" width="1" height="8" fill="#ef5350"/>
<rect x="585" y="194" width="1" height="20" fill="#ef5350"/>
<rect x="588" y="204" width="1" height="10" fill="#ef5350"/>
<rect x="591" y="200" width="1" height="16" fill="#26a69a"/>
<rect x="593" y="198" width="1" height="20" fill="#ef5350"/>
<rect x="596" y="184" width="1" height="32" fill="#26a69a"/>
<rect x="599" y="186" width="1" height="52" fill="#ef5350"/>
<rect x="602" y="204" width="1" height="33" fill="#26a69a"/>
<rect x="605" y="208" width="1" height="29" fill="#ef5350"/>
<rect x="608" y="214" width="1" height="23" fill="#26a69a"/>
<rect x="610" y="209" width="1" height="35" fill="#ef5350"/>
<rect x="613" y="192" width="1" height="78" fill="#26a69a"/>
<rect x="616" y="185" width="1" height="60" fill="#26a69a"/>
<rect x="619" y="125" width="1" height="85" fill="#26a69a"/>
<rect x="622" y="107" width="1" height="63" fill="#ef5350"/>
<rect x="625" y="154" width="1" height="81" fill="#ef5350"/>
<rect x="628" y="200" width="1" height="50" fill="#ef5350"/>
<rect x="630" y="180" width="1" height="65" fill="#26a69a"/>
<rect x="633" y="177" width="1" height="21" fill="#ef5350"/>
<rect x="636" y="192" width="1" height="11" fill="#ef5350"/>
<rect x="639" y="194" width="1" height="19" fill="#ef5350"/>
<rect x="642" y="210" width="1" height="17" fill="#ef5350"/>
<rect x="645" y="207" width="1" height="21" fill="#26a69a"/>
<rect x="647" y="190" width="1" height="18" fill="#26a69a"/>
<rect x="650" y="188" width="1" height="14" fill="#26a69a"/>
<rect x="653" y="185" width="1" height="10" fill="#ef5350"/>
<rect x="656" y="179" width="1" height="20" fill="#26a69a"/>
<rect x="659" y="180" width="1" height="32" fill="#ef5350"/>
<rect x="662" y="200" width="1" height="23" fill="#26a69a"/>
<rect x="665" y="181" width="1" height="31" fill="#26a69a"/>
<rect x="667" y="181" width="1" height="35" fill="#ef5350"/>
<rect x="670" y="209" width="1" height="37" fill="#ef5350"/>
<rect x="673" y="212" width="1" height="22" fill="#26a69a"/>
<rect x="676" y="197" width="1" height="32" fill="#ef5350"/>
<rect x="679" y="181" width="1" height="72" fill="#ef5350"/>
<rect x="682" y="195" width="1" height="90" fill="#ef5350"/>
<rect x="684" y="264" width="1" height="18" fill="#ef5350"/>
<rect x="687" y="242" width="1" height="63" fill="#ef5350"/>
<rect x="690" y="223" width="1" height="94" fill="#26a69a"/>
<rect x="693" y="231" width="1" height="80" fill="#ef5350"/>
<rect x="696" y="294" width="1" height="80" fill="#ef5350"/>
<rect x="699" y="320" width="1" height="18" fill="#26a69a"/>
<rect x="702" y="326" width="1" height="20" fill="#ef5350"/>
<rect x="704" y="337" width="1" height="12" fill="#26a69a"/>
<rect x="707" y="334" width="1" height="23" fill="#26a69a"/>
<rect x="710" y="329" width="1" height="29" fill="#ef5350"/>
<rect x="713" y="351" width="1" height="20" fill="#ef5350"/>
<rect x="716" y="367" width="1" height="18" fill="#ef5350"/>
<rect x="719" y="359" width="1" height="15" fill="#26a69a"/>
<rect x="721" y="356" width="1" height="18" fill="#ef5350"/>
<rect x="724" y="349" width="1" height="26" fill="#26a69a"/>
<rect x="727" y="342" width="1" height="60" fill="#ef5350"/>
<rect x="730" y="377" width="1" height="22" fill="#ef5350"/>
<rect x="733" y="352" width="1" height="45" fill="#26a69a"/>
<rect x="736" y="328" width="1" height="30" fill="#26a69a"/>
<rect x="739" y="327" width="1" height="41" fill="#ef5350"/>
<rect x="741" y="322" width="1" height="43" fill="#26a69a"/>
<rect x="744" y="319" width="1" height="34" fill="#ef5350"/>
<rect x="747" y="329" width="1" height="89" fill="#ef5350"/>
<rect x="750" y="330" width="1" height="81" fill="#26a69a"/>
<rect x="753" y="256" width="1" height="166" fill="#26a69a"/>
<rect x="756" y="251" width="1" height="117" fill="#ef5350"/>
<rect x="758" y="336" width="1" height="111" fill="#ef5350"/>
<rect x="761" y="424" width="1" height="63" fill="#ef5350"/>
<rect x="764" y="465" width="1" height="25" fill="#ef5350"/>
<rect x="767" y="470" width="1" height="16" fill="#ef5350"/>
<rect x="770" y="478" width="1" height="14" fill="#26a69a"/>
<rect x="773" y="478" width="1" height="16" fill="#ef5350"/>
<rect x="776" y="480" width="1" height="25" fill="#ef5350"/>
<rect x="778" y="468" width="1" height="21" fill="#26a69a"/>
<rect x="781" y="468" width="1" height="10" fill="#ef5350"/>
<rect x="784" y="466" width="1" height="12" fill="#26a69a"/>
<rect x="787" y="470" width="1" height="16" fill="#ef5350"/>
<rect x="790" y="484" width="1" height="29" fill="#ef5350"/>
<rect x="793" y="475" width="1" height="45" fill="#26a69a"/>
<rect x="795" y="460" width="1" height="39" fill="#26a69a"/>
<rect x="798" y="473" width="1" height="40" fill="#ef5350"/>
<rect x="801" y="495" width="1" height="22" fill="#ef5350"/>
<rect x="804" y="485" width="1" height="29" fill="#26a69a"/>
<rect x="807" y="489" width="1" height="46" fill="#ef5350"/>
<rect x="810" y="461" width="1" height="54" fill="#26a69a"/>
<rect x="813" y="498" width="1" height="66" fill="#ef5350"/>
<rect x="815" y="510" width="1" height="56" fill="#26a69a"/>
<rect x="818" y="501" width="1" height="58" fill="#26a69a"/>
<rect x="821" y="495" width="1" height="53" fill="#ef5350"/>
<rect x="824" y="515" width="1" height="60" fill="#ef5350"/>
<rect x="827" y="551" width="1" height="58" fill="#ef5350"/>
<rect x="830" y="599" width="1" height="25" fill="#ef5350"/>
<rect x="832" y="576" width="1" height="39" fill="#26a69a"/>
<rect x="835" y="567" width="1" height="48" fill="#26a69a"/>
<rect x="838" y="566" width="1" height="19" fill="#ef5350"/>
<rect x="841" y="571" width="1" height="13" fill="#26a69a"/>
<rect x="844" y="574" width="1" height="20" fill="#ef5350"/>
<rect x="847" y="579" width="1" height="15" fill="#26a69a"/>
<rect x="850" y="584" width="1" height="8" fill="#26a69a"/>
<rect x="852" y="575" width="1" height="12" fill="#26a69a"/>
<rect x="855" y="575" width="1" height="11" fill="#ef5350"/>
<rect x="858" y="583" width="1" height="68" fill="#ef5350"/>
<rect x="861" y="623" width="1" height="34" fill="#26a69a"/>
<rect x="864" y="636" width="1" height="80" fill="#ef5350"/>
<rect x="867" y="687" width="1" height="28" fill="#26a69a"/>
<rect x="869" y="666" width="1" height="25" fill="#26a69a"/>
<rect x="872" y="655" width="1" height="42" fill="#ef5350"/>
<rect x="875" y="628" width="1" height="94" fill="#26a69a"/>
<rect x="878" y="600" width="1" height="53" fill="#26a69a"/>
<rect x="881" y="581" width="1" height="39" fill="#26a69a"/>
<rect x="884" y="552" width="1" height="84" fill="#26a69a"/>
<rect x="887" y="551" width="1" height="72" fill="#ef5350"/>
<rect x="889" y="605" width="1" height="37" fill="#ef5350"/>
<rect x="892" y="606" width="1" height="102" fill="#ef5350"/>
<rect x="895" y="664" width="1" height="35" fill="#26a69a"/>
<rect x="898" y="666" width="1" height="9" fill="#26a69a"/>
<rect x="901" y="660" width="1" height="10" fill="#26a69a"/>
<rect x="904" y="658" width="1" height="28" fill="#ef5350"/>
<rect x="906" y="676" width="1" height="26" fill="#ef5350"/>
<rect x="909" y="661" width="1" height="34" fill="#26a69a"/>
<rect x="912" y="664" width="1" height="13" fill="#ef5350"/>
<rect x="915" y="661" width="1" height="14" fill="#26a69a"/>
<rect x="918" y="657" width="1" height="10" fill="#26a69a"/>
<rect x="921" y="644" width="1" height="17" fill="#26a69a"/>
<rect x="924" y="642" width="1" height="38" fill="#ef5350"/>
<rect x="926" y="650" width="1" height="41" fill="#26a69a"/>
<rect x="929" y="642" width="1" height="20" fill="#26a69a"/>
<rect x="932" y="623" width="1" height="31" fill="#26a69a"/>
<rect x="935" y="614" width="1" height="15" fill="#26a69a"/>
<rect x="938" y="611" width="1" height="28" fill="#26a69a"/>
<rect x="941" y="558" width="1" height="72" fill="#26a69a"/>
<rect x="943" y="533" width="1" height="84" fill="#26a69a"/>
<rect x="946" y="549" width="1" height="60" fill="#ef5350"/>
<rect x="949" y="582" width="1" height="91" fill="#ef5350"/>
<rect x="952" y="619" width="1" height="49" fill="#26a69a"/>
<rect x="955" y="571" width="1" height="69" fill="#26a69a"/>
<rect x="958" y="564" width="1" height="36" fill="#ef5350"/>
<rect x="961" y="523" width="1" height="78" fill="#26a69a"/>
<rect x="963" y="558" width="1" height="11" fill="#26a69a"/>
<rect x="966" y="556" width="1" height="10" fill="#26a69a"/>
<rect x="969" y="558" width="1" height="18" fill="#ef5350"/>
<rect x="972" y="557" width="1" height="12" fill="#26a69a"/>
<rect x="975" y="556" width="1" height="8" fill="#ef5350"/>
<rect x="978" y="557" width="1" height="19" fill="#ef5350"/>
<rect x="980" y="570" width="1" height="8" fill="#26a69a"/>
<rect x="983" y="569" width="1" height="24" fill="#ef5350"/>
<rect x="986" y="567" width="1" height="26" fill="#ef5350"/>
<rect x="989" y="586" width="1" height="27" fill="#ef5350"/>
<rect x="992" y="569" width="1" height="41" fill="#26a69a"/>
<rect x="995" y="564" width="1" height="37" fill="#ef5350"/>
<rect x="998" y="567" width="1" height="37" fill="#26a69a"/>
<rect x="1000" y="556" width="1" height="27" fill="#26a69a"/>
<rect x="1003" y="543" width="1" height="30" fill="#ef5350"/>
<rect x="1006" y="546" width="1" height="98" fill="#ef5350"/>
<rect x="1009" y="596" width="1" height="77" fill="#26a69a"/>
<rect x="1012" y="534" width="1" height="78" fill="#26a69a"/>
<rect x="1015" y="572" width="1" height="59" fill="#ef5350"/>
<rect x="1017" y="622" width="1" height="46" fill="#ef5350"/>
<rect x="1020" y="624" width="1" height="34" fill="#26a69a"/>
<rect x="1023" y="614" width="1" height="42" fill="#ef5350"/>
<rect x="1026" y="608" width="1" height="37" fill="#26a69a"/>
<rect x="1029" y="637" width="1" height="34" fill="#ef5350"/>
<rect x="1032" y="648" width="1" height="30" fill="#ef5350"/>
<rect x="1035" y="648" width="1" height="33" fill="#ef5350"/>
<rect x="1037" y="663" width="1" height="19" fill="#26a69a"/>
<rect x="1040" y="672" width="1" height="24" fill="#ef5350"/>
<rect x="1043" y="672" width="1" height="16" fill="#26a69a"/>
<rect x="1046" y="675" width="1" height="14" fill="#ef5350"/>
<rect x="1049" y="671" width="1" height="20" fill="#ef5350"/>
<rect x="1052" y="673" width="1" height="25" fill="#26a69a"/>
<rect x="1054" y="678" width="1" height="37" fill="#ef5350"/>
<rect x="1057" y="677" width="1" height="30" fill="#ef5350"/>
<rect x="1060" y="674" width="1" height="35" fill="#26a69a"/>
<rect x="1063" y="677" width="1" height="37" fill="#ef5350"/>
<rect x="1066" y="705" width="1" height="31" fill="#26a69a"/>
<rect x="1069" y="631" width="1" height="91" fill="#26a69a"/>
<rect x="1072" y="615" width="1" height="53" fill="#ef5350"/>
<rect x="1074" y="628" width="1" height="72" fill="#26a69a"/>
<rect x="1077" y="627" width="1" height="98" fill="#ef5350"/>
<rect x="1080" y="706" width="1" height="62" fill="#ef5350"/>
<rect x="10" y="676" width="2" height="19" fill="#26a69a"/>
<rect x="12" y="652" width="3" height="24" fill="#26a69a"/>
<rect x="15" y="652" width="3" height="15" fill="#ef5350"/>
<rect x="18" y="643" width="2" height="9" fill="#26a69a"/>
<rect x="20" y="639" width="3" height="7" fill="#26a69a"/>
<rect x="23" y="638" width="3" height="30" fill="#ef5350"/>
<rect x="26" y="675" width="3" height="40" fill="#ef5350"/>
<rect x="29" y="616" width="3" height="100" fill="#26a69a"/>
<rect x="32" y="617" width="3" height="14" fill="#ef5350"/>
<rect x="35" y="629" width="2" height="62" fill="#ef5350"/>
<rect x="37" y="665" width="3" height="26" fill="#26a69a"/>
<rect x="40" y="610" width="3" height="59" fill="#26a69a"/>
<rect x="43" y="611" width="3" height="19" fill="#ef5350"/>
<rect x="46" y="639" width="3" height="1" fill="#26a69a"/>
<rect x="49" y="635" width="3" height="4" fill="#26a69a"/>
<rect x="52" y="631" width="3" height="5" fill="#26a69a"/>
<rect x="55" y="609" width="2" height="23" fill="#26a69a"/>
<rect x="57" y="610" width="3" height="7" fill="#ef5350"/>
<rect x="60" y="601" width="3" height="16" fill="#26a69a"/>
<rect x="63" y="601" width="3" height="6" fill="#ef5350"/>
<rect x="66" y="605" width="3" height="10" fill="#ef5350"/>
<rect x="69" y="613" width="3" height="27" fill="#ef5350"/>
<rect x="72" y="640" width="2" height="6" fill="#ef5350"/>
<rect x="74" y="646" width="3" height="14" fill="#ef5350"/>
<rect x="77" y="660" width="3" height="7" fill="#ef5350"/>
<rect x="80" y="640" width="3" height="27" fill="#26a69a"/>
<rect x="83" y="621" width="3" height="20" fill="#26a69a"/>
<rect x="86" y="623" width="3" height="29" fill="#ef5350"/>
<rect x="89" y="610" width="3" height="41" fill="#26a69a"/>
<rect x="92" y="610" width="2" height="49" fill="#ef5350"/>
<rect x="94" y="658" width="3" height="29" fill="#ef5350"/>
<rect x="97" y="673" width="3" height="14" fill="#26a69a"/>
<rect x="100" y="615" width="3" height="58" fill="#26a69a"/>
<rect x="103" y="591" width="3" height="25" fill="#26a69a"/>
<rect x="106" y="590" width="3" height="17" fill="#ef5350"/>
<rect x="109" y="607" width="2" height="7" fill="#ef5350"/>
<rect x="111" y="617" width="3" height="4" fill="#26a69a"/>
<rect x="114" y="616" width="3" height="10" fill="#ef5350"/>
<rect x="117" y="614" width="3" height="12" fill="#26a69a"/>
<rect x="120" y="612" width="3" height="3" fill="#26a69a"/>
<rect x="123" y="605" width="3" height="8" fill="#26a69a"/>
<rect x="126" y="605" width="3" height="12" fill="#ef5350"/>
<rect x="129" y="614" width="2" height="14" fill="#ef5350"/>
<rect x="131" y="626" width="3" height="13" fill="#ef5350"/>
<rect x="134" y="629" width="3" height="10" fill="#26a69a"/>
<rect x="137" y="606" width="3" height="24" fill="#26a69a"/>
<rect x="140" y="605" width="3" height="3" fill="#ef5350"/>
<rect x="143" y="588" width="3" height="19" fill="#26a69a"/>
<rect x="146" y="573" width="2" height="16" fill="#26a69a"/>
<rect x="148" y="572" width="3" height="21" fill="#ef5350"/>
<rect x="151" y="592" width="3" height="124" fill="#ef5350"/>
<rect x="154" y="686" width="3" height="30" fill="#26a69a"/>
<rect x="157" y="639" width="3" height="48" fill="#26a69a"/>
<rect x="160" y="443" width="3" height="195" fill="#26a69a"/>
<rect x="163" y="443" width="3" height="51" fill="#ef5350"/>
<rect x="166" y="442" width="2" height="51" fill="#26a69a"/>
<rect x="168" y="407" width="3" height="37" fill="#26a69a"/>
<rect x="171" y="407" width="3" height="61" fill="#ef5350"/>
<rect x="174" y="460" width="3" height="8" fill="#26a69a"/>
<rect x="177" y="560" width="3" height="11" fill="#ef5350"/>
<rect x="180" y="553" width="3" height="19" fill="#26a69a"/>
<rect x="183" y="552" width="3" height="9" fill="#ef5350"/>
<rect x="186" y="560" width="2" height="2" fill="#ef5350"/>
<rect x="188" y="563" width="3" height="3" fill="#26a69a"/>
<rect x="191" y="563" width="3" height="22" fill="#ef5350"/>
<rect x="194" y="571" width="3" height="14" fill="#26a69a"/>
<rect x="197" y="559" width="3" height="12" fill="#26a69a"/>
<rect x="200" y="560" width="3" height="17" fill="#ef5350"/>
<rect x="203" y="576" width="2" height="11" fill="#ef5350"/>
<rect x="205" y="546" width="3" height="41" fill="#26a69a"/>
<rect x="208" y="536" width="3" height="11" fill="#26a69a"/>
<rect x="211" y="536" width="3" height="7" fill="#ef5350"/>
<rect x="214" y="543" width="3" height="7" fill="#ef5350"/>
<rect x="217" y="550" width="3" height="23" fill="#ef5350"/>
<rect x="220" y="478" width="3" height="95" fill="#26a69a"/>
<rect x="223" y="479" width="2" height="50" fill="#ef5350"/>
<rect x="225" y="465" width="3" height="63" fill="#26a69a"/>
<rect x="228" y="466" width="3" height="16" fill="#ef5350"/>
<rect x="231" y="378" width="3" height="104" fill="#26a69a"/>
<rect x="234" y="366" width="3" height="12" fill="#26a69a"/>
<rect x="237" y="366" width="3" height="4" fill="#ef5350"/>
<rect x="240" y="369" width="2" height="5" fill="#ef5350"/>
<rect x="242" y="373" width="3" height="1" fill="#ef5350"/>
<rect x="245" y="370" width="3" height="5" fill="#26a69a"/>
<rect x="248" y="362" width="3" height="8" fill="#26a69a"/>
<rect x="251" y="353" width="3" height="10" fill="#26a69a"/>
<rect x="254" y="353" width="3" height="8" fill="#ef5350"/>
<rect x="257" y="360" width="3" height="2" fill="#ef5350"/>
<rect x="260" y="361" width="2" height="7" fill="#ef5350"/>
<rect x="262" y="367" width="3" height="1" fill="#26a69a"/>
<rect x="265" y="366" width="3" height="2" fill="#26a69a"/>
<rect x="268" y="358" width="3" height="10" fill="#26a69a"/>
<rect x="271" y="330" width="3" height="28" fill="#26a69a"/>
<rect x="274" y="331" width="3" height="10" fill="#ef5350"/>
<rect x="277" y="337" width="2" height="5" fill="#26a69a"/>
<rect x="279" y="338" width="3" height="24" fill="#ef5350"/>
<rect x="282" y="336" width="3" height="26" fill="#26a69a"/>
<rect x="285" y="338" width="3" height="14" fill="#ef5350"/>
<rect x="288" y="300" width="3" height="52" fill="#26a69a"/>
<rect x="291" y="240" width="3" height="60" fill="#26a69a"/>
<rect x="294" y="241" width="3" height="1" fill="#ef5350"/>
<rect x="297" y="241" width="2" height="36" fill="#ef5350"/>
<rect x="299" y="276" width="3" height="34" fill="#ef5350"/>
<rect x="302" y="304" width="3" height="6" fill="#26a69a"/>
<rect x="305" y="305" width="3" height="5" fill="#ef5350"/>
<rect x="308" y="307" width="3" height="6" fill="#ef5350"/>
<rect x="311" y="307" width="3" height="6" fill="#26a69a"/>
<rect x="314" y="307" width="2" height="6" fill="#ef5350"/>
<rect x="316" y="310" width="3" height="3" fill="#26a69a"/>
<rect x="319" y="302" width="3" height="8" fill="#26a69a"/>
<rect x="322" y="302" width="3" height="3" fill="#ef5350"/>
<rect x="325" y="303" width="3" height="4" fill="#ef5350"/>
<rect x="328" y="307" width="3" height="4" fill="#ef5350"/>
<rect x="331" y="310" width="3" height="2" fill="#26a69a"/>
<rect x="334" y="304" width="2" height="6" fill="#26a69a"/>
<rect x="336" y="282" width="3" height="23" fill="#26a69a"/>
<rect x="339" y="278" width="3" height="4" fill="#26a69a"/>
<rect x="342" y="265" width="3" height="14" fill="#26a69a"/>
<rect x="345" y="260" width="3" height="6" fill="#26a69a"/>
<rect x="348" y="242" width="3" height="18" fill="#26a69a"/>
<rect x="351" y="242" width="2" height="28" fill="#ef5350"/>
<rect x="353" y="270" width="3" height="1" fill="#26a69a"/>
<rect x="356" y="270" width="3" height="51" fill="#ef5350"/>
<rect x="359" y="321" width="3" height="10" fill="#ef5350"/>
<rect x="362" y="330" width="3" height="18" fill="#ef5350"/>
<rect x="365" y="311" width="3" height="37" fill="#26a69a"/>
<rect x="368" y="278" width="3" height="33" fill="#26a69a"/>
<rect x="371" y="249" width="2" height="27" fill="#26a69a"/>
<rect x="373" y="254" width="3" height="1" fill="#26a69a"/>
<rect x="376" y="249" width="3" height="5" fill="#26a69a"/>
<rect x="379" y="247" width="3" height="3" fill="#26a69a"/>
<rect x="382" y="247" width="3" height="1" fill="#ef5350"/>
<rect x="385" y="248" width="3" height="4" fill="#ef5350"/>
<rect x="388" y="242" width="2" height="9" fill="#26a69a"/>
<rect x="390" y="238" width="3" height="4" fill="#26a69a"/>
<rect x="393" y="236" width="3" height="2" fill="#26a69a"/>
<rect x="396" y="222" width="3" height="16" fill="#26a69a"/>
<rect x="399" y="223" width="3" height="25" fill="#ef5350"/>
<rect x="402" y="221" width="3" height="27" fill="#26a69a"/>
<rect x="405" y="212" width="3" height="10" fill="#26a69a"/>
<rect x="408" y="212" width="2" height="4" fill="#ef5350"/>
<rect x="410" y="209" width="3" height="6" fill="#26a69a"/>
<rect x="413" y="209" width="3" height="37" fill="#ef5350"/>
<rect x="416" y="244" width="3" height="81" fill="#ef5350"/>
<rect x="419" y="314" width="3" height="11" fill="#26a69a"/>
<rect x="422" y="296" width="3" height="18" fill="#26a69a"/>
<rect x="425" y="285" width="2" height="11" fill="#26a69a"/>
<rect x="427" y="285" width="3" height="134" fill="#ef5350"/>
<rect x="430" y="381" width="3" height="38" fill="#26a69a"/>
<rect x="433" y="357" width="3" height="25" fill="#26a69a"/>
<rect x="436" y="358" width="3" height="1" fill="#ef5350"/>
<rect x="439" y="359" width="3" height="7" fill="#26a69a"/>
<rect x="442" y="353" width="3" height="7" fill="#26a69a"/>
<rect x="445" y="346" width="2" height="8" fill="#26a69a"/>
<rect x="447" y="340" width="3" height="8" fill="#26a69a"/>
<rect x="450" y="340" width="3" height="1" fill="#26a69a"/>
<rect x="453" y="340" width="3" height="1" fill="#26a69a"/>
<rect x="456" y="340" width="3" height="2" fill="#ef5350"/>
<rect x="459" y="337" width="3" height="4" fill="#26a69a"/>
<rect x="462" y="336" width="2" height="2" fill="#26a69a"/>
<rect x="464" y="324" width="3" height="14" fill="#26a69a"/>
<rect x="467" y="323" width="3" height="16" fill="#ef5350"/>
<rect x="470" y="338" width="3" height="38" fill="#ef5350"/>
<rect x="473" y="358" width="3" height="18" fill="#26a69a"/>
<rect x="476" y="339" width="3" height="19" fill="#26a69a"/>
<rect x="479" y="298" width="3" height="42" fill="#26a69a"/>
<rect x="482" y="228" width="2" height="72" fill="#26a69a"/>
<rect x="484" y="239" width="3" height="93" fill="#ef5350"/>
<rect x="487" y="331" width="3" height="32" fill="#ef5350"/>
<rect x="490" y="327" width="3" height="39" fill="#26a69a"/>
<rect x="493" y="327" width="3" height="13" fill="#ef5350"/>
<rect x="496" y="340" width="3" height="3" fill="#ef5350"/>
<rect x="499" y="339" width="2" height="3" fill="#26a69a"/>
<rect x="501" y="338" width="3" height="24" fill="#ef5350"/>
<rect x="504" y="317" width="3" height="11" fill="#26a69a"/>
<rect x="507" y="307" width="3" height="10" fill="#26a69a"/>
<rect x="510" y="306" width="3" height="11" fill="#ef5350"/>
<rect x="513" y="316" width="3" height="4" fill="#ef5350"/>
<rect x="516" y="318" width="3" height="3" fill="#26a69a"/>
<rect x="519" y="319" width="2" height="1" fill="#ef5350"/>
<rect x="521" y="319" width="3" height="3" fill="#26a69a"/>
<rect x="524" y="320" width="3" height="8" fill="#ef5350"/>
<rect x="527" y="293" width="3" height="34" fill="#26a69a"/>
<rect x="530" y="294" width="3" height="22" fill="#ef5350"/>
<rect x="533" y="291" width="3" height="25" fill="#26a69a"/>
<rect x="536" y="287" width="2" height="5" fill="#26a69a"/>
<rect x="538" y="269" width="3" height="19" fill="#26a69a"/>
<rect x="541" y="260" width="3" height="11" fill="#26a69a"/>
<rect x="544" y="238" width="3" height="23" fill="#26a69a"/>
<rect x="547" y="220" width="3" height="18" fill="#26a69a"/>
<rect x="550" y="147" width="3" height="74" fill="#26a69a"/>
<rect x="553" y="146" width="3" height="24" fill="#ef5350"/>
<rect x="556" y="164" width="2" height="18" fill="#ef5350"/>
<rect x="558" y="168" width="3" height="14" fill="#26a69a"/>
<rect x="561" y="168" width="3" height="8" fill="#ef5350"/>
<rect x="564" y="175" width="3" height="13" fill="#ef5350"/>
<rect x="567" y="173" width="3" height="16" fill="#26a69a"/>
<rect x="570" y="173" width="3" height="13" fill="#ef5350"/>
<rect x="573" y="183" width="2" height="3" fill="#26a69a"/>
<rect x="575" y="183" width="3" height="3" fill="#ef5350"/>
<rect x="578" y="186" width="3" height="11" fill="#ef5350"/>
<rect x="581" y="196" width="3" height="4" fill="#ef5350"/>
<rect x="584" y="200" width="3" height="6" fill="#ef5350"/>
<rect x="587" y="205" width="3" height="9" fill="#ef5350"/>
<rect x="590" y="200" width="3" height="14" fill="#26a69a"/>
<rect x="593" y="200" width="2" height="12" fill="#ef5350"/>
<rect x="595" y="188" width="3" height="25" fill="#26a69a"/>
<rect x="598" y="188" width="3" height="47" fill="#ef5350"/>
<rect x="601" y="214" width="3" height="21" fill="#26a69a"/>
<rect x="604" y="214" width="3" height="7" fill="#ef5350"/>
<rect x="607" y="216" width="3" height="6" fill="#26a69a"/>
<rect x="610" y="217" width="2" height="20" fill="#ef5350"/>
<rect x="612" y="231" width="3" height="7" fill="#26a69a"/>
<rect x="615" y="208" width="3" height="24" fill="#26a69a"/>
<rect x="618" y="135" width="3" height="74" fill="#26a69a"/>
<rect x="621" y="134" width="3" height="31" fill="#ef5350"/>
<rect x="624" y="164" width="3" height="62" fill="#ef5350"/>
<rect x="627" y="225" width="3" height="14" fill="#ef5350"/>
<rect x="630" y="180" width="2" height="59" fill="#26a69a"/>
<rect x="632" y="182" width="3" height="4" fill="#ef5350"/>
<rect x="635" y="198" width="3" height="1" fill="#ef5350"/>
<rect x="638" y="198" width="3" height="15" fill="#ef5350"/>
<rect x="641" y="213" width="3" height="11" fill="#ef5350"/>
<rect x="644" y="210" width="3" height="14" fill="#26a69a"/>
<rect x="647" y="195" width="2" height="13" fill="#26a69a"/>
<rect x="649" y="192" width="3" height="3" fill="#26a69a"/>
<rect x="652" y="192" width="3" height="2" fill="#ef5350"/>
<rect x="655" y="182" width="3" height="12" fill="#26a69a"/>
<rect x="658" y="182" width="3" height="30" fill="#ef5350"/>
<rect x="661" y="200" width="3" height="12" fill="#26a69a"/>
<rect x="664" y="188" width="3" height="14" fill="#26a69a"/>
<rect x="667" y="188" width="2" height="28" fill="#ef5350"/>
<rect x="669" y="216" width="3" height="16" fill="#ef5350"/>
<rect x="672" y="214" width="3" height="19" fill="#26a69a"/>
<rect x="675" y="214" width="3" height="13" fill="#ef5350"/>
<rect x="678" y="225" width="3" height="11" fill="#ef5350"/>
<rect x="681" y="236" width="3" height="28" fill="#ef5350"/>
<rect x="684" y="264" width="2" height="10" fill="#ef5350"/>
<rect x="686" y="274" width="3" height="27" fill="#ef5350"/>
<rect x="689" y="263" width="3" height="38" fill="#26a69a"/>
<rect x="692" y="263" width="3" height="32" fill="#ef5350"/>
<rect x="695" y="294" width="3" height="48" fill="#ef5350"/>
<rect x="698" y="334" width="3" height="3" fill="#26a69a"/>
<rect x="701" y="334" width="3" height="11" fill="#ef5350"/>
<rect x="704" y="339" width="2" height="5" fill="#26a69a"/>
<rect x="706" y="339" width="3" height="2" fill="#26a69a"/>
<rect x="709" y="339" width="3" height="17" fill="#ef5350"/>
<rect x="712" y="356" width="3" height="14" fill="#ef5350"/>
<rect x="715" y="370" width="3" height="4" fill="#ef5350"/>
<rect x="718" y="360" width="3" height="14" fill="#26a69a"/>
<rect x="721" y="360" width="2" height="2" fill="#ef5350"/>
<rect x="723" y="359" width="3" height="13" fill="#26a69a"/>
<rect x="726" y="360" width="3" height="32" fill="#ef5350"/>
<rect x="729" y="392" width="3" height="2" fill="#ef5350"/>
<rect x="732" y="353" width="3" height="41" fill="#26a69a"/>
<rect x="735" y="328" width="3" height="26" fill="#26a69a"/>
<rect x="738" y="329" width="3" height="34" fill="#ef5350"/>
<rect x="741" y="328" width="2" height="35" fill="#26a69a"/>
<rect x="743" y="328" width="3" height="5" fill="#ef5350"/>
<rect x="746" y="332" width="3" height="76" fill="#ef5350"/>
<rect x="749" y="351" width="3" height="57" fill="#26a69a"/>
<rect x="752" y="293" width="3" height="59" fill="#26a69a"/>
<rect x="755" y="293" width="3" height="60" fill="#ef5350"/>
<rect x="758" y="336" width="2" height="101" fill="#ef5350"/>
<rect x="760" y="437" width="3" height="33" fill="#ef5350"/>
<rect x="763" y="469" width="3" height="5" fill="#ef5350"/>
<rect x="766" y="472" width="3" height="10" fill="#ef5350"/>
<rect x="769" y="479" width="3" height="4" fill="#26a69a"/>
<rect x="772" y="480" width="3" height="3" fill="#ef5350"/>
<rect x="775" y="483" width="3" height="4" fill="#ef5350"/>
<rect x="778" y="468" width="2" height="19" fill="#26a69a"/>
<rect x="780" y="468" width="3" height="8" fill="#ef5350"/>
<rect x="783" y="471" width="3" height="4" fill="#26a69a"/>
<rect x="786" y="472" width="3" height="13" fill="#ef5350"/>
<rect x="789" y="485" width="3" height="11" fill="#ef5350"/>
<rect x="792" y="483" width="3" height="12" fill="#26a69a"/>
<rect x="795" y="477" width="2" height="18" fill="#26a69a"/>
<rect x="797" y="477" width="3" height="23" fill="#ef5350"/>
<rect x="800" y="499" width="3" height="9" fill="#ef5350"/>
<rect x="803" y="492" width="3" height="16" fill="#26a69a"/>
<rect x="806" y="493" width="3" height="22" fill="#ef5350"/>
<rect x="809" y="502" width="3" height="13" fill="#26a69a"/>
<rect x="812" y="504" width="3" height="43" fill="#ef5350"/>
<rect x="815" y="519" width="2" height="28" fill="#26a69a"/>
<rect x="817" y="507" width="3" height="13" fill="#26a69a"/>
<rect x="820" y="507" width="3" height="11" fill="#ef5350"/>
<rect x="823" y="517" width="3" height="47" fill="#ef5350"/>
<rect x="826" y="562" width="3" height="45" fill="#ef5350"/>
<rect x="829" y="607" width="3" height="14" fill="#ef5350"/>
<rect x="832" y="576" width="2" height="4" fill="#26a69a"/>
<rect x="834" y="568" width="3" height="10" fill="#26a69a"/>
<rect x="837" y="569" width="3" height="10" fill="#ef5350"/>
<rect x="840" y="575" width="3" height="3" fill="#26a69a"/>
<rect x="843" y="576" width="3" height="18" fill="#ef5350"/>
<rect x="846" y="589" width="3" height="5" fill="#26a69a"/>
<rect x="849" y="586" width="3" height="4" fill="#26a69a"/>
<rect x="852" y="582" width="2" height="4" fill="#26a69a"/>
<rect x="854" y="582" width="3" height="2" fill="#ef5350"/>
<rect x="857" y="584" width="3" height="66" fill="#ef5350"/>
<rect x="860" y="636" width="3" height="12" fill="#26a69a"/>
<rect x="863" y="637" width="3" height="78" fill="#ef5350"/>
<rect x="866" y="690" width="3" height="24" fill="#26a69a"/>
<rect x="869" y="680" width="2" height="10" fill="#26a69a"/>
<rect x="871" y="681" width="3" height="2" fill="#ef5350"/>
<rect x="874" y="628" width="3" height="53" fill="#26a69a"/>
<rect x="877" y="615" width="3" height="14" fill="#26a69a"/>
<rect x="880" y="595" width="3" height="21" fill="#26a69a"/>
<rect x="883" y="552" width="3" height="43" fill="#26a69a"/>
<rect x="886" y="552" width="3" height="59" fill="#ef5350"/>
<rect x="889" y="611" width="2" height="3" fill="#ef5350"/>
<rect x="891" y="614" width="3" height="86" fill="#ef5350"/>
<rect x="894" y="670" width="3" height="29" fill="#26a69a"/>
<rect x="897" y="669" width="3" height="2" fill="#26a69a"/>
<rect x="900" y="661" width="3" height="9" fill="#26a69a"/>
<rect x="903" y="662" width="3" height="15" fill="#ef5350"/>
<rect x="906" y="676" width="2" height="17" fill="#ef5350"/>
<rect x="908" y="667" width="3" height="26" fill="#26a69a"/>
<rect x="911" y="667" width="3" height="5" fill="#ef5350"/>
<rect x="914" y="661" width="3" height="12" fill="#26a69a"/>
<rect x="917" y="660" width="3" height="1" fill="#26a69a"/>
<rect x="920" y="648" width="3" height="13" fill="#26a69a"/>
<rect x="923" y="648" width="3" height="21" fill="#ef5350"/>
<rect x="926" y="654" width="2" height="14" fill="#26a69a"/>
<rect x="928" y="644" width="3" height="11" fill="#26a69a"/>
<rect x="931" y="624" width="3" height="21" fill="#26a69a"/>
<rect x="934" y="620" width="3" height="5" fill="#26a69a"/>
<rect x="937" y="611" width="3" height="9" fill="#26a69a"/>
<rect x="940" y="567" width="3" height="44" fill="#26a69a"/>
<rect x="943" y="550" width="2" height="18" fill="#26a69a"/>
<rect x="945" y="550" width="3" height="41" fill="#ef5350"/>
<rect x="948" y="591" width="3" height="65" fill="#ef5350"/>
<rect x="951" y="635" width="3" height="22" fill="#26a69a"/>
<rect x="954" y="579" width="3" height="56" fill="#26a69a"/>
<rect x="957" y="579" width="3" height="19" fill="#ef5350"/>
<rect x="960" y="559" width="3" height="33" fill="#26a69a"/>
<rect x="963" y="559" width="2" height="9" fill="#26a69a"/>
<rect x="965" y="558" width="3" height="7" fill="#26a69a"/>
<rect x="968" y="558" width="3" height="9" fill="#ef5350"/>
<rect x="971" y="557" width="3" height="11" fill="#26a69a"/>
<rect x="974" y="557" width="3" height="4" fill="#ef5350"/>
<rect x="977" y="560" width="3" height="16" fill="#ef5350"/>
<rect x="980" y="571" width="2" height="5" fill="#26a69a"/>
<rect x="982" y="572" width="3" height="14" fill="#ef5350"/>
<rect x="985" y="585" width="3" height="8" fill="#ef5350"/>
<rect x="988" y="592" width="3" height="1" fill="#ef5350"/>
<rect x="991" y="574" width="3" height="20" fill="#26a69a"/>
<rect x="994" y="574" width="3" height="15" fill="#ef5350"/>
<rect x="997" y="568" width="3" height="21" fill="#26a69a"/>
<rect x="1000" y="561" width="2" height="8" fill="#26a69a"/>
<rect x="1002" y="561" width="3" height="12" fill="#ef5350"/>
<rect x="1005" y="573" width="3" height="53" fill="#ef5350"/>
<rect x="1008" y="612" width="3" height="14" fill="#26a69a"/>
<rect x="1011" y="571" width="3" height="41" fill="#26a69a"/>
<rect x="1014" y="572" width="3" height="50" fill="#ef5350"/>
<rect x="1017" y="622" width="2" height="23" fill="#ef5350"/>
<rect x="1019" y="641" width="3" height="4" fill="#26a69a"/>
<rect x="1022" y="640" width="3" height="6" fill="#ef5350"/>
<rect x="1025" y="634" width="3" height="11" fill="#26a69a"/>
<rect x="1028" y="637" width="3" height="18" fill="#ef5350"/>
<rect x="1031" y="655" width="3" height="9" fill="#ef5350"/>
<rect x="1034" y="664" width="3" height="15" fill="#ef5350"/>
<rect x="1037" y="675" width="2" height="4" fill="#26a69a"/>
<rect x="1039" y="675" width="3" height="13" fill="#ef5350"/>
<rect x="1042" y="678" width="3" height="10" fill="#26a69a"/>
<rect x="1045" y="678" width="3" height="6" fill="#ef5350"/>
<rect x="1048" y="684" width="3" height="7" fill="#ef5350"/>
<rect x="1051" y="688" width="3" height="2" fill="#26a69a"/>
<rect x="1054" y="688" width="2" height="3" fill="#ef5350"/>
<rect x="1056" y="691" width="3" height="11" fill="#ef5350"/>
<rect x="1059" y="691" width="3" height="11" fill="#26a69a"/>
<rect x="1062" y="690" width="3" height="23" fill="#ef5350"/>
<rect x="1065" y="707" width="3" height="5" fill="#26a69a"/>
<rect x="1068" y="636" width="3" height="73" fill="#26a69a"/>
<rect x="1071" y="636" width="3" height="17" fill="#ef5350"/>
<rect x="1074" y="637" width="2" height="19" fill="#26a69a"/>
<rect x="1076" y="637" width="3" height="70" fill="#ef5350"/>
<rect x="1079" y="708" width="3" height="58" fill="#ef5350"/>
<path d="M10 765.5h1M13 765.5h1M16 765.5h1M19 765.5h1M22 765.5h1M25 765.5h1M28 765.5h1M31 765.5h1M34 765.5h1M37 765.5h1M40 765.5h1M43 765.5h1M46 765.5h1M49 765.5h1M52 765.5h1M55 765.5h1M58 765.5h1M61 765.5h1M64 765.5h1M67 765.5h1M70 765.5h1M73 765.5h1M76 765.5h1M79 765.5h1M82 765.5h1M85 765.5h1M88 765.5h1M91 765.5h1M94 765.5h1M97 765.5h1M100 765.5h1M103 765.5h1M106 765.5h1M109 765.5h1M112 765.5h1M115 765.5h1M118 765.5h1M121 765.5h1M124 765.5h1M127 765.5h1M130 765.5h1M133 765.5h1M136 765.5h1M139 765.5h1M142 765.5h1M145 765.5h1M148 765.5h1M151 765.5h1M154 765.5h1M157 765.5h1M160 765.5h1M163 765.5h1M166 765.5h1M169 765.5h1M172 765.5h1M175 765.5h1M178 765.5h1M181 765.5h1M184 765.5h1M187 765.5h1M190 765.5h1M193 765.5h1M196 765.5h1M199 765.5h1M202 765.5h1M205 765.5h1M208 765.5h1M211 765.5h1M214 765.5h1M217 765.5h1M220 765.5h1M223 765.5h1M226 765.5h1M229 765.5h1M232 765.5h1M235 765.5h1M238 765.5h1M241 765.5h1M244 765.5h1M247 765.5h1M250 765.5h1M253 765.5h1M256 765.5h1M259 765.5h1M262 765.5h1M265 765.5h1M268 765.5h1M271 765.5h1M274 765.5h1M277 765.5h1M280 765.5h1M283 765.5h1M286 765.5h1M289 765.5h1M292 765.5h1M295 765.5h1M298 765.5h1M301 765.5h1M304 765.5h1M307 765.5h1M310 765.5h1M313 765.5h1M316 765.5h1M319 765.5h1M322 765.5h1M325 765.5h1M328 765.5h1M331 765.5h1M334 765.5h1M337 765.5h1M340 765.5h1M343 765.5h1M346 765.5h1M349 765.5h1M352 765.5h1M355 765.5h1M358 765.5h1M361 765.5h1M364 765.5h1M367 765.5h1M370 765.5h1M373 765.5h1M376 765.5h1M379 765.5h1M382 765.5h1M385 765.5h1M388 765.5h1M391 765.5h1M394 765.5h1M397 765.5h1M400 765.5h1M403 765.5h1M406 765.5h1M409 765.5h1M412 765.5h1M415 765.5h1M418 765.5h1M421 765.5h1M424 765.5h1M427 765.5h1M430 765.5h1M433 765.5h1M436 765.5h1M439 765.5h1M442 765.5h1M445 765.5h1M448 765.5h1M451 765.5h1M454 765.5h1M457 765.5h1M460 765.5h1M463 765.5h1M466 765.5h1M469 765.5h1M472 765.5h1M475 765.5h1M478 765.5h1M481 765.5h1M484 765.5h1M487 765.5h1M490 765.5h1M493 765.5h1M496 765.5h1M499 765.5h1M502 765.5h1M505 765.5h1M508 765.5h1M511 765.5h1M514 765.5h1M517 765.5h1M520 765.5h1M523 765.5h1M526 765.5h1M529 765.5h1M532 765.5h1M535 765.5h1M538 765.5h1M541 765.5h1M544 765.5h1M547 765.5h1M550 765.5h1M553 765.5h1M556 765.5h1M559 765.5h1M562 765.5h1M565 765.5h1M568 765.5h1M571 765.5h1M574 765.5h1M577 765.5h1M580 765.5h1M583 765.5h1M586 765.5h1M589 765.5h1M592 765.5h1M595 765.5h1M598 765.5h1M601 765.5h1M604 765.5h1M607 765.5h1M610 765.5h1M613 765.5h1M616 765.5h1M619 765.5h1M622 765.5h1M625 765.5h1M628 765.5h1M631 765.5h1M634 765.5h1M637 765.5h1M640 765.5h1M643 765.5h1M646 765.5h1M649 765.5h1M652 765.5h1M655 765.5h1M658 765.5h1M661 765.5h1M664 765.5h1M667 765.5h1M670 765.5h1M673 765.5h1M676 765.5h1M679 765.5h1M682 765.5h1M685 765.5h1M688 765.5h1M691 765.5h1M694 765.5h1M697 765.5h1M700 765.5h1M703 765.5h1M706 765.5h1M709 765.5h1M712 765.5h1M715 765.5h1M718 765.5h1M721 765.5h1M724 765.5h1M727 765.5h1M730 765.5h1M733 765.5h1M736 765.5h1M739 765.5h1M742 765.5h1M745 765.5h1M748 765.5h1M751 765.5h1M754 765.5h1M757 765.5h1M760 765.5h1M763 765.5h1M766 765.5h1M769 765.5h1M772 765.5h1M775 765.5h1M778 765.5h1M781 765.5h1M784 765.5h1M787 765.5h1M790 765.5h1M793 765.5h1M796 765.5h1M799 765.5h1M802 765.5h1M805 765.5h1M808 765.5h1M811 765.5h1M814 765.5h1M817 765.5h1M820 765.5h1M823 765.5h1M826 765.5h1M829 765.5h1M832 765.5h1M835 765.5h1M838 765.5h1M841 765.5h1M844 765.5h1M847 765.5h1M850 765.5h1M853 765.5h1M856 765.5h1M859 765.5h1M862 765.5h1M865 765.5h1M868 765.5h1M871 765.5h1M874 765.5h1M877 765.5h1M880 765.5h1M883 765.5h1M886 765.5h1M889 765.5h1M892 765.5h1M895 765.5h1M898 765.5h1M901 765.5h1M904 765.5h1M907 765.5h1M910 765.5h1M913 765.5h1M916 765.5h1M919 765.5h1M922 765.5h1M925 765.5h1M928 765.5h1M931 765.5h1M934 765.5h1M937 765.5h1M940 765.5h1M943 765.5h1M946 765.5h1M949 765.5h1M952 765.5h1M955 765.5h1M958 765.5h1M961 765.5h1M964 765.5h1M967 765.5h1M970 765.5h1M973 765.5h1M976 765.5h1M979 765.5h1M982 765.5h1M985 765.5h1M988 765.5h1M991 765.5h1M994 765.5h1M997 765.5h1M1000 765.5h1M1003 765.5h1M1006 765.5h1M1009 765.5h1M1012 765.5h1M1015 765.5h1M1018 765.5h1M1021 765.5h1M1024 765.5h1M1027 765.5h1M1030 765.5h1M1033 765.5h1M1036 765.5h1M1039 765.5h1M1042 765.5h1M1045 765.5h1M1048 765.5h1M1051 765.5h1M1054 765.5h1M1057 765.5h1M1060 765.5h1M1063 765.5h1M1066 765.5h1M1069 765.5h1M1072 765.5h1M1075 765.5h1M1078 765.5h1M1081 765.5h1M1084 765.5h1M1087 765.5h1M1090 765.5h1M1093 765.5h1M1096 765.5h1M1099 765.5h1M1102 765.5h1M1105 765.5h1M1108 765.5h1M1111 765.5h1M1114 765.5h1M1117 765.5h1M1120 765.5h1M1123 765.5h1M1126 765.5h1M1129 765.5h1M1132 765.5h1M1135 765.5h1M1138 765.5h1M1141 765.5h1M1144 765.5h1M1147 765.5h1M1150 765.5h1M1153 765.5h1M1156 765.5h1M1159 765.5h1M1162 765.5h1M1165 765.5h1M1168 765.5h1M1171 765.5h1M1174 765.5h1M1177 765.5h1M1180 765.5h1M1183 765.5h1M1186 765.5h1M1189 765.5h1M1192 765.5h1M1195 765.5h1M1198 765.5h1M1201 765.5h1M1204 765.5h1M1207 765.5h1M1210 765.5h1M1213 765.5h1M1216 765.5h1M1219 765.5h1M1222 765.5h1M1225 765.5h1M1228 765.5h1M1231 765.5h1M1234 765.5h1M1237 765.5h1M1240 765.5h1M1243 765.5h1M1246 765.5h1M1249 765.5h1M1252 765.5h1M1255 765.5h1M1258 765.5h1M1261 765.5h1M1264 765.5h1M1267 765.5h1M1270 765.5h1M1273 765.5h1M1276 765.5h1M1279 765.5h1M1282 765.5h1M1285 765.5h1M1288 765.5h1M1291 765.5h1M1294 765.5h1M1297 765.5h1M1300 765.5h1M1303 765.5h1M1306 765.5h1M1309 765.5h1M1312 765.5h1M1315 765.5h1M1318 765.5h1M1321 765.5h1M1324 765.5h1M1327 765.5h1M1330 765.5h1M1333 765.5h1M1336 765.5h1M1339 765.5h1M1342 765.5h1M1345 765.5h1M1348 765.5h1M1351 765.5h1M1354 765.5h1M1357 765.5h1M1360 765.5h1M1363 765.5h1M1366 765.5h1M1369 765.5h1M1372 765.5h1M1375 765.5h1M1378 765.5h1M1381 765.5h1M1384 765.5h1M1387 765.5h1M1390 765.5h1M1393 765.5h1M1396 765.5h1M1399 765.5h1M1402 765.5h1M1405 765.5h1M1408 765.5h1M1411 765.5h1M1414 765.5h1M1417 765.5h1M1420 765.5h1M1423 765.5h1M1426 765.5h1M1429 765.5h1M1432 765.5h1M1435 765.5h1M1438 765.5h1M1441 765.5h1M1444 765.5h1M1447 765.5h1M1450 765.5h1" stroke="#9598a1" stroke-width="1" fill="none"/>
</svg>
<div style="position:absolute;left:1451px;top:28px;width:1px;height:824px;background:#2a2e39"></div>
<div style="position:absolute;left:11px;top:825px;width:1505px;height:1px;background:#2a2e39"></div>
<div class="t" id="h1" style="left:10.0px;top:8.0px;transform:scaleX(0.9065);transform-origin:0 0;">FXDSniper</div>
<div class="t" id="h2" style="left:67.6px;top:8.0px;letter-spacing:-0.134px;">published</div>
<div class="t" id="h3" style="left:122.4px;top:8.0px;letter-spacing:0.141px;">on</div>
<div class="t" id="h4" style="left:140.3px;top:8.0px;letter-spacing:-0.075px;">TradingView.com,</div>
<div class="t" id="h5" style="left:237.8px;top:8.0px;letter-spacing:-0.394px;">Feb</div>
<div class="t" id="h6" style="left:260.7px;top:8.0px;letter-spacing:-0.244px;">08,</div>
<div class="t" id="h7" style="left:281.0px;top:8.0px;letter-spacing:-0.201px;">2024</div>
<div class="t" id="h8" style="left:311.0px;top:8.0px;letter-spacing:-0.383px;">10:31</div>
<div class="t" id="h9" style="left:343.8px;top:8.0px;transform:scaleX(0.8714);transform-origin:0 0;">UTC</div>
<div class="t" id="l_sym" style="left:17.9px;top:35.0px;transform:scaleX(0.9113);transform-origin:0 0;">US30, 1h, BLACKBULL</div>
<div class="t" id="l_o" style="left:140.6px;top:35.0px;transform:scaleX(0.8883);transform-origin:0 0;">O</div>
<div class="t" id="l_ov" style="left:148.6px;top:35.0px;letter-spacing:-0.209px;color:#ef5350;">32914.72</div>
<div class="t" id="l_h" style="left:204.1px;top:35.0px;transform:scaleX(1.0263);transform-origin:0 0;">H</div>
<div class="t" id="l_hv" style="left:212.6px;top:35.0px;letter-spacing:-0.309px;color:#ef5350;">32917.34</div>
<div class="t" id="l_l" style="left:268.0px;top:35.0px;transform:scaleX(0.9869);transform-origin:0 0;">L</div>
<div class="t" id="l_lv" style="left:274.6px;top:35.0px;letter-spacing:-0.295px;color:#ef5350;">32790.54</div>
<div class="t" id="l_c" style="left:329.4px;top:35.0px;transform:scaleX(0.9456);transform-origin:0 0;">C</div>
<div class="t" id="l_cv" style="left:337.8px;top:35.0px;letter-spacing:-0.323px;color:#ef5350;">32795.99</div>
<div class="t" id="l_d1" style="left:393.2px;top:35.0px;transform:scaleX(0.9355);transform-origin:0 0;color:#ef5350;">−121.21</div>
<div class="t" id="l_d2" style="left:439.6px;top:35.0px;transform:scaleX(0.9015);transform-origin:0 0;color:#ef5350;">(−0.37%)</div>
<div class="t" id="vol" style="left:17.8px;top:52.0px;transform:scaleX(0.9708);transform-origin:0 0;">Vol</div>
<div class="t" id="volv" style="left:41.7px;top:52.0px;transform:scaleX(0.9593);transform-origin:0 0;color:#50535e;">9.987K</div>
<div class="t" id="usd" style="left:1464.0px;top:38.0px;transform:scaleX(0.8365);transform-origin:0 0;">USD</div>
<div class="t" id="tvtxt" style="left:33.4px;top:864.2px;letter-spacing:0.120px;font-size:12.5px;line-height:15px;-webkit-text-stroke:0.35px;">TradingView</div>
<div class="t" id="pl32700" style="left:1459.0px;top:806.1px;letter-spacing:-0.209px;color:#b2b5be;">32700.00</div>
<div class="t" id="pl32800" style="left:1459.0px;top:757.2px;letter-spacing:-0.209px;color:#b2b5be;">32800.00</div>
<div class="t" id="pl32900" style="left:1459.0px;top:708.4px;letter-spacing:-0.209px;color:#b2b5be;">32900.00</div>
<div class="t" id="pl33000" style="left:1459.0px;top:659.6px;letter-spacing:-0.209px;color:#b2b5be;">33000.00</div>
<div class="t" id="pl33100" style="left:1459.0px;top:610.7px;letter-spacing:-0.209px;color:#b2b5be;">33100.00</div>
<div class="t" id="pl33200" style="left:1459.0px;top:561.9px;letter-spacing:-0.209px;color:#b2b5be;">33200.00</div>
<div class="t" id="pl33300" style="left:1459.0px;top:513.1px;letter-spacing:-0.209px;color:#b2b5be;">33300.00</div>
<div class="t" id="pl33400" style="left:1459.0px;top:464.2px;letter-spacing:-0.209px;color:#b2b5be;">33400.00</div>
<div class="t" id="pl33500" style="left:1459.0px;top:415.4px;letter-spacing:-0.209px;color:#b2b5be;">33500.00</div>
<div class="t" id="pl33600" style="left:1459.0px;top:366.6px;letter-spacing:-0.209px;color:#b2b5be;">33600.00</div>
<div class="t" id="pl33700" style="left:1459.0px;top:317.8px;letter-spacing:-0.209px;color:#b2b5be;">33700.00</div>
<div class="t" id="pl33800" style="left:1459.0px;top:268.9px;letter-spacing:-0.209px;color:#b2b5be;">33800.00</div>
<div class="t" id="pl33900" style="left:1459.0px;top:220.1px;letter-spacing:-0.209px;color:#b2b5be;">33900.00</div>
<div class="t" id="pl34000" style="left:1459.0px;top:171.3px;letter-spacing:-0.209px;color:#b2b5be;">34000.00</div>
<div class="t" id="pl34100" style="left:1459.0px;top:122.4px;letter-spacing:-0.209px;color:#b2b5be;">34100.00</div>
<div class="t" id="pl34200" style="left:1459.0px;top:73.6px;letter-spacing:-0.209px;color:#b2b5be;">34200.00</div>
<div class="t" id="tl0" style="left:69.2px;top:832.0px;letter-spacing:-0.108px;color:#b2b5be;">12:00</div>
<div class="t" id="tl1" style="left:177.3px;top:832.0px;letter-spacing:0.000px;color:#b2b5be;">9</div>
<div class="t" id="tl2" style="left:305.2px;top:832.0px;letter-spacing:0.131px;color:#b2b5be;">11</div>
<div class="t" id="tl3" style="left:396.4px;top:832.0px;letter-spacing:-0.108px;color:#b2b5be;">12:00</div>
<div class="t" id="tl4" style="left:501.5px;top:832.0px;letter-spacing:-0.359px;color:#b2b5be;">16</div>
<div class="t" id="tl5" style="left:632.7px;top:832.0px;letter-spacing:-0.359px;color:#b2b5be;">18</div>
<div class="t" id="tl6" style="left:723.8px;top:832.0px;letter-spacing:-0.108px;color:#b2b5be;">12:00</div>
<div class="t" id="tl7" style="left:828.6px;top:832.0px;letter-spacing:-0.359px;color:#b2b5be;">23</div>
<div class="t" id="tl8" style="left:959.5px;top:832.0px;letter-spacing:-0.359px;color:#b2b5be;">25</div>
<div class="t" id="tl9" style="left:1051.2px;top:832.0px;letter-spacing:-0.108px;color:#b2b5be;">12:00</div>
<div class="t" id="tl10" style="left:1156.5px;top:832.0px;letter-spacing:-0.359px;color:#b2b5be;">30</div>
<div class="t" id="tl11" style="left:1283.2px;top:832.0px;letter-spacing:-0.586px;color:#b2b5be;font-weight:bold;">Nov</div>
<div class="t" id="tl12" style="left:1378.6px;top:832.0px;letter-spacing:-0.108px;color:#b2b5be;">12:00</div>
<div style="position:absolute;left:1454px;top:30px;width:58px;height:26px;border:1px solid #363a45;border-radius:4px;box-sizing:content-box"></div>
<svg style="left:10px;top:862.6px" width="20" height="16" viewBox="0 0 36 28"><path fill="#d1d4dc" d="M14 22H7V11H0V4h14v18zM28 22h-8l7.500-18h8L28 22z"/><circle fill="#d1d4dc" cx="20" cy="8" r="4"/></svg>
</body></html>
